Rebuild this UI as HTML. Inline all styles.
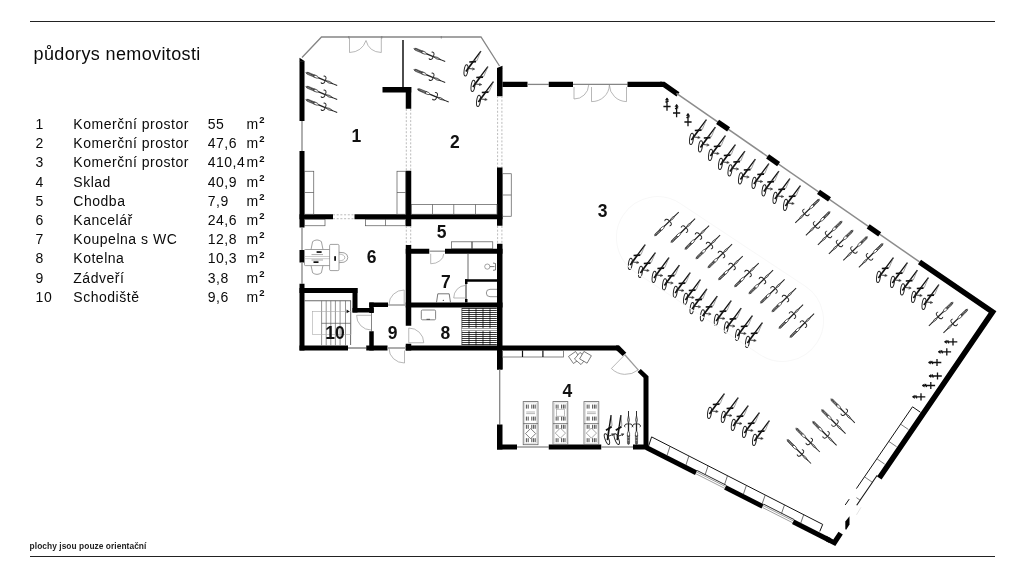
<!DOCTYPE html>
<html lang="cs"><head><meta charset="utf-8"><title>půdorys nemovitosti</title>
<style>
html,body{margin:0;padding:0;background:#fff;}
body{width:1024px;height:576px;position:relative;overflow:hidden;font-family:"Liberation Sans",sans-serif;color:#0a0a0a;}
.hl{position:absolute;left:30px;width:965px;height:1.4px;background:#222;}
h1{position:absolute;left:33.6px;top:42.9px;margin:0;font-size:18px;font-weight:400;letter-spacing:0.37px;line-height:22px;white-space:nowrap;}
.row{position:absolute;left:0;height:19px;line-height:19px;font-size:14px;letter-spacing:0.52px;white-space:nowrap;}
.row span{position:absolute;top:0;}
.row .n{left:35.6px;} .row .t{left:73.3px;} .row .v{left:207.7px;} .row .m{left:246.4px;}
.row sup{font-size:9.5px;vertical-align:baseline;position:relative;top:-5.8px;letter-spacing:0;font-weight:700;margin-left:0.6px}
.foot{position:absolute;left:29.6px;top:540px;font-size:8.4px;font-weight:700;line-height:12px;white-space:nowrap;letter-spacing:0.05px;color:#222}
svg{position:absolute;left:0;top:0;}
#wrap{position:absolute;left:0;top:0;width:1024px;height:576px;filter:grayscale(1);}
svg text{font-family:"Liberation Sans",sans-serif;font-weight:700;font-size:17.5px;fill:#111;}
</style></head><body>
<div id="wrap">
<div class="hl" style="top:20.8px"></div>
<div class="hl" style="top:555.6px"></div>
<h1>půdorys nemovitosti</h1>
<div class="row" style="top:115.00px"><span class="n">1</span><span class="t">Komerční prostor</span><span class="v">55</span><span class="m">m<sup>2</sup></span></div>
<div class="row" style="top:134.20px"><span class="n">2</span><span class="t">Komerční prostor</span><span class="v">47,6</span><span class="m">m<sup>2</sup></span></div>
<div class="row" style="top:153.40px"><span class="n">3</span><span class="t">Komerční prostor</span><span class="v">410,4</span><span class="m">m<sup>2</sup></span></div>
<div class="row" style="top:172.60px"><span class="n">4</span><span class="t">Sklad</span><span class="v">40,9</span><span class="m">m<sup>2</sup></span></div>
<div class="row" style="top:191.80px"><span class="n">5</span><span class="t">Chodba</span><span class="v">7,9</span><span class="m">m<sup>2</sup></span></div>
<div class="row" style="top:211.00px"><span class="n">6</span><span class="t">Kancelář</span><span class="v">24,6</span><span class="m">m<sup>2</sup></span></div>
<div class="row" style="top:230.20px"><span class="n">7</span><span class="t">Koupelna s WC</span><span class="v">12,8</span><span class="m">m<sup>2</sup></span></div>
<div class="row" style="top:249.40px"><span class="n">8</span><span class="t">Kotelna</span><span class="v">10,3</span><span class="m">m<sup>2</sup></span></div>
<div class="row" style="top:268.60px"><span class="n">9</span><span class="t">Zádveří</span><span class="v">3,8</span><span class="m">m<sup>2</sup></span></div>
<div class="row" style="top:287.80px"><span class="n">10</span><span class="t">Schodiště</span><span class="v">9,6</span><span class="m">m<sup>2</sup></span></div>
<div class="foot">plochy jsou pouze orientační</div>
<svg width="1024" height="576" viewBox="0 0 1024 576">
<rect x="299.50" y="61.20" width="5.00" height="59.80" fill="#000"/>
<polygon points="299.5,57.8 304.5,61 304.5,61.5 299.5,61.5" fill="#000"/>
<line x1="302.00" y1="121.00" x2="302.00" y2="151.00" stroke="#858585" stroke-width="1.3" />
<rect x="299.50" y="151.00" width="5.00" height="76.50" fill="#000"/>
<line x1="302.00" y1="227.50" x2="302.00" y2="250.00" stroke="#858585" stroke-width="1.3" />
<rect x="299.50" y="250.00" width="5.00" height="12.50" fill="#000"/>
<line x1="302.00" y1="262.50" x2="302.00" y2="283.75" stroke="#858585" stroke-width="1.3" />
<rect x="299.50" y="283.75" width="5.00" height="66.75" fill="#000"/>
<path d="M302,57.5 L321.5,37 L481,37 L499.5,66" stroke="#858585" stroke-width="1.3" fill="none" />
<line x1="403.00" y1="40.00" x2="403.00" y2="88.00" stroke="#000" stroke-width="1.4" />
<rect x="382.50" y="87.00" width="28.75" height="5.50" fill="#000"/>
<rect x="405.75" y="87.00" width="5.50" height="21.75" fill="#000"/>
<line x1="406.30" y1="109.00" x2="406.30" y2="171.00" stroke="#aaa" stroke-width="0.8" stroke-dasharray="2,1.7"/>
<line x1="410.70" y1="109.00" x2="410.70" y2="171.00" stroke="#aaa" stroke-width="0.8" stroke-dasharray="2,1.7"/>
<rect x="405.75" y="170.75" width="5.50" height="55.50" fill="#000"/>
<line x1="406.30" y1="226.00" x2="406.30" y2="245.00" stroke="#aaa" stroke-width="0.8" stroke-dasharray="2,1.7"/>
<line x1="410.70" y1="226.00" x2="410.70" y2="245.00" stroke="#aaa" stroke-width="0.8" stroke-dasharray="2,1.7"/>
<rect x="405.75" y="245.00" width="5.50" height="80.75" fill="#000"/>
<rect x="405.75" y="343.75" width="5.50" height="6.75" fill="#000"/>
<rect x="497.00" y="68.00" width="5.50" height="28.25" fill="#000"/>
<polygon points="497,68 502.5,65.8 502.5,68.2 497,68.2" fill="#000"/>
<rect x="502.50" y="81.75" width="25.00" height="5.25" fill="#000"/>
<line x1="497.60" y1="96.00" x2="497.60" y2="168.00" stroke="#aaa" stroke-width="0.8" stroke-dasharray="2,1.7"/>
<line x1="501.90" y1="96.00" x2="501.90" y2="168.00" stroke="#aaa" stroke-width="0.8" stroke-dasharray="2,1.7"/>
<rect x="497.00" y="167.50" width="5.50" height="58.25" fill="#000"/>
<line x1="497.60" y1="226.00" x2="497.60" y2="244.00" stroke="#aaa" stroke-width="0.8" stroke-dasharray="2,1.7"/>
<line x1="501.90" y1="226.00" x2="501.90" y2="244.00" stroke="#aaa" stroke-width="0.8" stroke-dasharray="2,1.7"/>
<rect x="497.00" y="243.75" width="5.50" height="125.75" fill="#000"/>
<rect x="299.50" y="214.25" width="33.50" height="5.00" fill="#000"/>
<line x1="333.00" y1="214.80" x2="354.50" y2="214.80" stroke="#aaa" stroke-width="0.8" stroke-dasharray="2,1.7"/>
<line x1="333.00" y1="218.70" x2="354.50" y2="218.70" stroke="#aaa" stroke-width="0.8" stroke-dasharray="2,1.7"/>
<rect x="354.50" y="214.25" width="148.00" height="5.00" fill="#000"/>
<rect x="405.75" y="248.75" width="23.50" height="5.00" fill="#000"/>
<rect x="445.00" y="248.75" width="57.50" height="5.00" fill="#000"/>
<line x1="468.00" y1="254.00" x2="468.00" y2="280.00" stroke="#444" stroke-width="0.8" />
<rect x="465.00" y="279.25" width="32.00" height="2.50" fill="#000"/>
<rect x="465.00" y="279.25" width="2.50" height="4.75" fill="#000"/>
<line x1="466.00" y1="284.00" x2="466.00" y2="299.50" stroke="#111" stroke-width="0.9" />
<rect x="465.00" y="299.00" width="2.50" height="3.50" fill="#000"/>
<rect x="369.25" y="302.50" width="18.75" height="4.50" fill="#000"/>
<rect x="405.75" y="302.50" width="96.75" height="5.00" fill="#000"/>
<rect x="299.50" y="288.00" width="58.00" height="5.00" fill="#000"/>
<rect x="352.50" y="288.00" width="5.00" height="24.50" fill="#000"/>
<rect x="352.50" y="308.00" width="21.25" height="4.50" fill="#000"/>
<rect x="369.25" y="302.50" width="4.50" height="10.50" fill="#000"/>
<line x1="371.50" y1="313.00" x2="371.50" y2="331.25" stroke="#666" stroke-width="0.8" />
<rect x="369.25" y="331.25" width="4.50" height="19.25" fill="#000"/>
<rect x="299.50" y="345.50" width="48.50" height="5.00" fill="#000"/>
<line x1="348.00" y1="348.00" x2="366.25" y2="348.00" stroke="#858585" stroke-width="1.5" />
<rect x="366.25" y="345.50" width="21.25" height="5.00" fill="#000"/>
<rect x="405.75" y="345.50" width="213.00" height="5.00" fill="#000"/>
<polygon points="616,345.5 619.2,345.5 626.3,352.7 622.6,355.9 616.6,350.5" fill="#000"/>
<polygon points="640.8,369 648.5,376.2 648.5,449.5 633,449.5 633,444.6 643.5,444.6 643.5,377.8 637.6,372.1" fill="#000"/>
<rect x="497.00" y="350.00" width="5.50" height="19.50" fill="#000"/>
<line x1="499.70" y1="369.50" x2="499.70" y2="424.50" stroke="#858585" stroke-width="1.3" />
<rect x="497.00" y="424.50" width="5.50" height="25.00" fill="#000"/>
<rect x="497.00" y="444.50" width="20.00" height="5.00" fill="#000"/>
<line x1="517.00" y1="447.00" x2="548.75" y2="447.00" stroke="#858585" stroke-width="1.3" />
<rect x="548.75" y="444.50" width="52.50" height="5.00" fill="#000"/>
<line x1="601.25" y1="447.00" x2="633.00" y2="447.00" stroke="#858585" stroke-width="1.3" />
<line x1="527.50" y1="84.40" x2="548.75" y2="84.40" stroke="#858585" stroke-width="1.3" />
<rect x="548.75" y="81.75" width="24.25" height="5.25" fill="#000"/>
<line x1="573.00" y1="84.40" x2="627.50" y2="84.40" stroke="#858585" stroke-width="1.3" />
<rect x="627.50" y="81.75" width="34.50" height="5.25" fill="#000"/>
<path d="M660,84.4 L663.7,84.4 L678.0,94.3" stroke="#000" stroke-width="5.2" fill="none" stroke-linejoin="miter"/>
<line x1="676.50" y1="93.26" x2="919.50" y2="261.90" stroke="#8c8c8c" stroke-width="1.5" />
<line x1="717.60" y1="121.78" x2="728.60" y2="129.42" stroke="#000" stroke-width="5.2" />
<line x1="767.60" y1="156.48" x2="778.60" y2="164.12" stroke="#000" stroke-width="5.2" />
<line x1="818.50" y1="191.81" x2="829.50" y2="199.44" stroke="#000" stroke-width="5.2" />
<line x1="868.20" y1="226.30" x2="879.70" y2="234.28" stroke="#000" stroke-width="5.2" />
<path d="M919.5,261.9 L992.6,311.9 L879.3,478.0" stroke="#000" stroke-width="5.5" fill="none" stroke-linejoin="miter" stroke-miterlimit="10"/>
<polygon points="845.3,521.5 849.5,516.3 849.5,524.5 846.2,529.8 845.3,529.2" fill="#000"/>
<line x1="646.30" y1="447.49" x2="696.10" y2="472.69" stroke="#000" stroke-width="4.9" />
<line x1="725.20" y1="487.41" x2="762.60" y2="506.34" stroke="#000" stroke-width="4.9" />
<line x1="793.10" y1="521.77" x2="830.00" y2="540.44" stroke="#000" stroke-width="4.9" />
<polygon points="826,535.7 833.3,539.4 838.5,531.7 842.8,534.6 835.3,546 826,541.2" fill="#000"/>
<line x1="697.10" y1="470.50" x2="726.20" y2="485.22" stroke="#111" stroke-width="0.9" />
<line x1="696.10" y1="471.69" x2="725.20" y2="486.41" stroke="#777" stroke-width="0.7" />
<line x1="696.10" y1="473.89" x2="725.20" y2="488.61" stroke="#777" stroke-width="0.7" />
<line x1="763.60" y1="504.14" x2="794.10" y2="519.58" stroke="#111" stroke-width="0.9" />
<line x1="762.60" y1="505.34" x2="793.10" y2="520.77" stroke="#777" stroke-width="0.7" />
<line x1="762.60" y1="507.54" x2="793.10" y2="522.97" stroke="#777" stroke-width="0.7" />
<rect x="304.50" y="171.25" width="9.25" height="43.00" fill="none" stroke="#555" stroke-width="0.7"/>
<line x1="304.50" y1="192.50" x2="313.75" y2="192.50" stroke="#555" stroke-width="0.7" />
<rect x="397.00" y="171.25" width="8.75" height="43.00" fill="none" stroke="#555" stroke-width="0.7"/>
<line x1="397.00" y1="192.50" x2="405.75" y2="192.50" stroke="#555" stroke-width="0.7" />
<rect x="411.25" y="204.50" width="85.75" height="9.75" fill="none" stroke="#555" stroke-width="0.7"/>
<line x1="432.50" y1="204.50" x2="432.50" y2="214.25" stroke="#555" stroke-width="0.7" />
<line x1="453.75" y1="204.50" x2="453.75" y2="214.25" stroke="#555" stroke-width="0.7" />
<line x1="475.50" y1="204.50" x2="475.50" y2="214.25" stroke="#555" stroke-width="0.7" />
<rect x="502.50" y="173.75" width="8.75" height="42.50" fill="none" stroke="#555" stroke-width="0.7"/>
<line x1="502.50" y1="195.00" x2="511.25" y2="195.00" stroke="#555" stroke-width="0.7" />
<rect x="304.50" y="219.25" width="20.50" height="6.50" fill="none" stroke="#555" stroke-width="0.7"/>
<rect x="365.50" y="219.25" width="40.00" height="6.50" fill="none" stroke="#555" stroke-width="0.7"/>
<line x1="385.50" y1="219.25" x2="385.50" y2="225.75" stroke="#555" stroke-width="0.7" />
<rect x="451.50" y="241.80" width="41.25" height="6.95" fill="none" stroke="#555" stroke-width="0.7"/>
<line x1="472.00" y1="241.80" x2="472.00" y2="248.75" stroke="#222" stroke-width="1" />
<rect x="502.50" y="350.50" width="61.00" height="6.50" fill="none" stroke="#666" stroke-width="0.8"/>
<line x1="522.50" y1="350.50" x2="522.50" y2="357.00" stroke="#111" stroke-width="1.2" />
<line x1="542.90" y1="350.50" x2="542.90" y2="357.00" stroke="#111" stroke-width="1.2" />
<path d="M349.5,37 L349.5,52.5 Q362,52 366,40.5" stroke="#9a9a9a" stroke-width="0.7" fill="none" />
<path d="M381.3,37 L381.3,52.5 Q369,52 366,40.5" stroke="#9a9a9a" stroke-width="0.7" fill="none" />
<line x1="348.80" y1="36.00" x2="348.80" y2="38.50" stroke="#777" stroke-width="0.8" />
<line x1="381.80" y1="36.00" x2="381.80" y2="38.50" stroke="#777" stroke-width="0.8" />
<line x1="441.30" y1="36.00" x2="441.30" y2="38.50" stroke="#777" stroke-width="0.8" />
<path d="M574,87 L574,99 A14.5,14.5 0 0 0 588.7,85" stroke="#9a9a9a" stroke-width="0.7" fill="none" />
<path d="M591.5,87 L591.5,101.6 A17.5,17 0 0 0 609.4,85" stroke="#9a9a9a" stroke-width="0.7" fill="none" />
<path d="M626.5,87 L626.5,101.6 A17.5,17 0 0 1 609.4,85" stroke="#9a9a9a" stroke-width="0.7" fill="none" />
<line x1="429.25" y1="251.20" x2="445.00" y2="251.20" stroke="#999" stroke-width="1.4" />
<path d="M430.7,253.75 L430.7,263.75 A13,10 0 0 0 443.7,253.9" stroke="#9a9a9a" stroke-width="0.7" fill="none" />
<path d="M465.6,285.4 A12,12.6 0 0 0 453.7,298 L465.6,298" stroke="#9a9a9a" stroke-width="0.7" fill="none" />
<line x1="388.00" y1="305.00" x2="405.75" y2="305.00" stroke="#999" stroke-width="1.4" />
<path d="M404.2,304.5 L404.2,290 A15,14.5 0 0 0 389,304.5" stroke="#9a9a9a" stroke-width="0.7" fill="none" />
<path d="M371,315.3 L356.6,315.3 A14.5,14.5 0 0 0 371,330" stroke="#9a9a9a" stroke-width="0.7" fill="none" />
<path d="M408.75,328 L408.75,342.75 L423.75,342.75 A15,14.75 0 0 0 408.75,328" stroke="#9a9a9a" stroke-width="0.7" fill="none" />
<line x1="387.50" y1="348.00" x2="405.75" y2="348.00" stroke="#999" stroke-width="1.6" />
<path d="M404.5,350.5 L404.5,363 A15.5,14.5 0 0 1 389,348.5" stroke="#9a9a9a" stroke-width="0.7" fill="none" />
<path d="M624.8,354.8 L611.4,368.5 A20,20 0 0 0 638.2,369.9" stroke="#9a9a9a" stroke-width="0.7" fill="none" />
<line x1="624.80" y1="354.80" x2="638.40" y2="370.10" stroke="#999" stroke-width="1.3" />
<circle cx="487.3" cy="266.6" r="2.6" fill="none" stroke="#666" stroke-width="0.6"/>
<path d="M489.9,266.6 L494.5,266.6 M493,263 L495.5,263.5 L495.5,270 L493,270.3" stroke="#444" stroke-width="0.7" fill="none" />
<path d="M497,289.3 L490,289.3 Q486.3,289.3 486.3,293 Q486.3,296.7 490,296.7 L497,296.7" stroke="#666" stroke-width="0.7" fill="none" />
<path d="M436.5,302.5 L437.8,293.8 L449.2,293.8 L450.5,302.5" stroke="#555" stroke-width="0.8" fill="none" />
<circle cx="443.3" cy="300.3" r="0.6" fill="#222"/>
<rect x="421.3" y="310" width="14.3" height="9.8" rx="1.2" fill="none" stroke="#666" stroke-width="0.8"/>
<line x1="426.50" y1="319.30" x2="430.00" y2="319.30" stroke="#333" stroke-width="0.8" />
<line x1="461.80" y1="308.50" x2="496.80" y2="308.50" stroke="#3a3a3a" stroke-width="1.0" />
<line x1="461.80" y1="310.50" x2="496.80" y2="310.50" stroke="#3a3a3a" stroke-width="1.0" />
<line x1="461.80" y1="312.50" x2="496.80" y2="312.50" stroke="#3a3a3a" stroke-width="1.0" />
<line x1="461.80" y1="314.50" x2="496.80" y2="314.50" stroke="#3a3a3a" stroke-width="1.0" />
<line x1="461.80" y1="316.50" x2="496.80" y2="316.50" stroke="#3a3a3a" stroke-width="1.0" />
<line x1="461.80" y1="318.50" x2="496.80" y2="318.50" stroke="#3a3a3a" stroke-width="1.0" />
<line x1="461.80" y1="320.50" x2="496.80" y2="320.50" stroke="#3a3a3a" stroke-width="1.0" />
<line x1="461.80" y1="322.50" x2="496.80" y2="322.50" stroke="#3a3a3a" stroke-width="1.0" />
<line x1="461.80" y1="324.50" x2="496.80" y2="324.50" stroke="#3a3a3a" stroke-width="1.0" />
<line x1="461.80" y1="326.50" x2="496.80" y2="326.50" stroke="#3a3a3a" stroke-width="1.0" />
<line x1="461.80" y1="328.50" x2="496.80" y2="328.50" stroke="#3a3a3a" stroke-width="1.0" />
<line x1="461.80" y1="330.50" x2="496.80" y2="330.50" stroke="#3a3a3a" stroke-width="1.0" />
<line x1="461.80" y1="332.50" x2="496.80" y2="332.50" stroke="#3a3a3a" stroke-width="1.0" />
<line x1="461.80" y1="334.50" x2="496.80" y2="334.50" stroke="#3a3a3a" stroke-width="1.0" />
<line x1="461.80" y1="336.50" x2="496.80" y2="336.50" stroke="#3a3a3a" stroke-width="1.0" />
<line x1="461.80" y1="338.50" x2="496.80" y2="338.50" stroke="#3a3a3a" stroke-width="1.0" />
<line x1="461.80" y1="340.50" x2="496.80" y2="340.50" stroke="#3a3a3a" stroke-width="1.0" />
<line x1="461.80" y1="342.50" x2="496.80" y2="342.50" stroke="#3a3a3a" stroke-width="1.0" />
<line x1="461.80" y1="344.50" x2="496.80" y2="344.50" stroke="#3a3a3a" stroke-width="1.0" />
<line x1="469.00" y1="308.20" x2="469.00" y2="345.30" stroke="#000" stroke-width="1.2" stroke-opacity="0.6"/>
<line x1="476.00" y1="308.20" x2="476.00" y2="345.30" stroke="#000" stroke-width="1.2" stroke-opacity="0.6"/>
<line x1="483.00" y1="308.20" x2="483.00" y2="345.30" stroke="#000" stroke-width="1.2" stroke-opacity="0.6"/>
<line x1="490.00" y1="308.20" x2="490.00" y2="345.30" stroke="#000" stroke-width="1.2" stroke-opacity="0.6"/>
<line x1="461.90" y1="308.20" x2="461.90" y2="345.30" stroke="#333" stroke-width="0.7" />
<line x1="461.80" y1="329.50" x2="496.80" y2="329.50" stroke="#fff" stroke-width="2.0" />
<line x1="304.50" y1="300.75" x2="351.00" y2="300.75" stroke="#444" stroke-width="0.8" />
<line x1="350.60" y1="300.75" x2="350.60" y2="345.00" stroke="#444" stroke-width="0.8" />
<line x1="321.60" y1="300.75" x2="321.60" y2="345.50" stroke="#666" stroke-width="0.7" />
<line x1="326.20" y1="300.75" x2="326.20" y2="345.50" stroke="#666" stroke-width="0.7" />
<line x1="330.80" y1="300.75" x2="330.80" y2="345.50" stroke="#666" stroke-width="0.7" />
<line x1="335.40" y1="300.75" x2="335.40" y2="345.50" stroke="#666" stroke-width="0.7" />
<line x1="340.10" y1="300.75" x2="340.10" y2="345.50" stroke="#666" stroke-width="0.7" />
<line x1="345.50" y1="300.75" x2="345.50" y2="345.50" stroke="#666" stroke-width="0.7" />
<line x1="321.60" y1="323.30" x2="351.00" y2="323.30" stroke="#555" stroke-width="0.7" />
<rect x="312.30" y="311.40" width="38.70" height="23.10" fill="none" stroke="#aaa" stroke-width="0.6"/>
<polygon points="346.6,309.6 349.6,311.4 346.6,313.2" fill="#111"/>
<path d="M311,249.6 L312.6,241.6 Q317,238.3 321.4,241.6 L323,249.6" stroke="#777" stroke-width="0.7" fill="none" />
<path d="M311,265.4 L312.6,272.8 Q317,276 321.4,272.8 L323,265.4" stroke="#777" stroke-width="0.7" fill="none" />
<path d="M339,252.3 L344,252.8 Q347.8,254 347.8,257.5 Q347.8,261 344,262.2 L339,262.7" stroke="#777" stroke-width="0.7" fill="none" />
<path d="M339,254 Q344.8,254.5 344.8,257.5 Q344.8,260.5 339,261" stroke="#777" stroke-width="0.5" fill="none" />
<rect x="304.50" y="249.50" width="26.00" height="16.10" rx="0.8" fill="#fff" stroke="#777" stroke-width="0.7"/>
<line x1="304.50" y1="256.50" x2="330.00" y2="256.50" stroke="#999" stroke-width="0.5" />
<line x1="304.50" y1="258.70" x2="330.00" y2="258.70" stroke="#999" stroke-width="0.5" />
<rect x="329.60" y="244.40" width="9.40" height="26.20" rx="1.2" fill="#fff" stroke="#777" stroke-width="0.7"/>
<rect x="316.60" y="251.20" width="5.00" height="1.70" fill="#111"/>
<rect x="313.50" y="261.30" width="5.00" height="1.70" fill="#111"/>
<rect x="334.20" y="256.20" width="1.80" height="4.60" fill="#111"/>
<line x1="311.50" y1="254.60" x2="323.00" y2="254.60" stroke="#555" stroke-width="0.5" />
<line x1="311.50" y1="260.00" x2="323.00" y2="260.00" stroke="#555" stroke-width="0.5" />
<rect x="570.2" y="353.2" width="8.6" height="8.6" fill="#fff" stroke="#555" stroke-width="0.7" transform="rotate(-35 574.5 357.5)"/>
<rect x="576.2" y="354.2" width="8.6" height="8.6" fill="#fff" stroke="#555" stroke-width="0.7" transform="rotate(40 580.5 358.5)"/>
<rect x="581.2" y="353.0" width="8.6" height="8.6" fill="#fff" stroke="#555" stroke-width="0.7" transform="rotate(30 585.5 357.3)"/>
<rect x="523.20" y="401.60" width="14.80" height="43.10" fill="none" stroke="#666" stroke-width="0.8"/>
<rect x="524.50" y="402.90" width="12.20" height="40.50" fill="none" stroke="#c4c4c4" stroke-width="0.5"/>
<line x1="523.20" y1="423.60" x2="538.00" y2="423.60" stroke="#666" stroke-width="0.8" />
<line x1="526.40" y1="404.60" x2="526.40" y2="408.60" stroke="#222" stroke-width="0.8" />
<line x1="528.20" y1="404.60" x2="528.20" y2="408.60" stroke="#222" stroke-width="0.8" />
<line x1="531.80" y1="404.60" x2="531.80" y2="408.60" stroke="#222" stroke-width="0.8" />
<line x1="533.60" y1="404.60" x2="533.60" y2="408.60" stroke="#222" stroke-width="0.8" />
<line x1="535.20" y1="404.60" x2="535.20" y2="408.60" stroke="#222" stroke-width="0.8" />
<line x1="526.40" y1="416.60" x2="526.40" y2="420.60" stroke="#222" stroke-width="0.8" />
<line x1="528.20" y1="416.60" x2="528.20" y2="420.60" stroke="#222" stroke-width="0.8" />
<line x1="531.80" y1="416.60" x2="531.80" y2="420.60" stroke="#222" stroke-width="0.8" />
<line x1="533.60" y1="416.60" x2="533.60" y2="420.60" stroke="#222" stroke-width="0.8" />
<line x1="535.20" y1="416.60" x2="535.20" y2="420.60" stroke="#222" stroke-width="0.8" />
<line x1="526.40" y1="424.80" x2="526.40" y2="428.80" stroke="#222" stroke-width="0.8" />
<line x1="528.20" y1="424.80" x2="528.20" y2="428.80" stroke="#222" stroke-width="0.8" />
<line x1="531.80" y1="424.80" x2="531.80" y2="428.80" stroke="#222" stroke-width="0.8" />
<line x1="533.60" y1="424.80" x2="533.60" y2="428.80" stroke="#222" stroke-width="0.8" />
<line x1="535.20" y1="424.80" x2="535.20" y2="428.80" stroke="#222" stroke-width="0.8" />
<line x1="526.40" y1="438.20" x2="526.40" y2="442.20" stroke="#222" stroke-width="0.8" />
<line x1="528.20" y1="438.20" x2="528.20" y2="442.20" stroke="#222" stroke-width="0.8" />
<line x1="531.80" y1="438.20" x2="531.80" y2="442.20" stroke="#222" stroke-width="0.8" />
<line x1="533.60" y1="438.20" x2="533.60" y2="442.20" stroke="#222" stroke-width="0.8" />
<line x1="535.20" y1="438.20" x2="535.20" y2="442.20" stroke="#222" stroke-width="0.8" />
<line x1="526.20" y1="412.00" x2="535.00" y2="412.00" stroke="#888" stroke-width="0.6" />
<line x1="526.20" y1="413.60" x2="535.00" y2="413.60" stroke="#888" stroke-width="0.6" />
<rect x="553.00" y="401.60" width="14.80" height="43.10" fill="none" stroke="#666" stroke-width="0.8"/>
<rect x="554.30" y="402.90" width="12.20" height="40.50" fill="none" stroke="#c4c4c4" stroke-width="0.5"/>
<line x1="553.00" y1="423.60" x2="567.80" y2="423.60" stroke="#666" stroke-width="0.8" />
<line x1="556.20" y1="404.60" x2="556.20" y2="408.60" stroke="#222" stroke-width="0.8" />
<line x1="558.00" y1="404.60" x2="558.00" y2="408.60" stroke="#222" stroke-width="0.8" />
<line x1="561.60" y1="404.60" x2="561.60" y2="408.60" stroke="#222" stroke-width="0.8" />
<line x1="563.40" y1="404.60" x2="563.40" y2="408.60" stroke="#222" stroke-width="0.8" />
<line x1="565.00" y1="404.60" x2="565.00" y2="408.60" stroke="#222" stroke-width="0.8" />
<line x1="556.20" y1="416.60" x2="556.20" y2="420.60" stroke="#222" stroke-width="0.8" />
<line x1="558.00" y1="416.60" x2="558.00" y2="420.60" stroke="#222" stroke-width="0.8" />
<line x1="561.60" y1="416.60" x2="561.60" y2="420.60" stroke="#222" stroke-width="0.8" />
<line x1="563.40" y1="416.60" x2="563.40" y2="420.60" stroke="#222" stroke-width="0.8" />
<line x1="565.00" y1="416.60" x2="565.00" y2="420.60" stroke="#222" stroke-width="0.8" />
<line x1="556.20" y1="424.80" x2="556.20" y2="428.80" stroke="#222" stroke-width="0.8" />
<line x1="558.00" y1="424.80" x2="558.00" y2="428.80" stroke="#222" stroke-width="0.8" />
<line x1="561.60" y1="424.80" x2="561.60" y2="428.80" stroke="#222" stroke-width="0.8" />
<line x1="563.40" y1="424.80" x2="563.40" y2="428.80" stroke="#222" stroke-width="0.8" />
<line x1="565.00" y1="424.80" x2="565.00" y2="428.80" stroke="#222" stroke-width="0.8" />
<line x1="556.20" y1="438.20" x2="556.20" y2="442.20" stroke="#222" stroke-width="0.8" />
<line x1="558.00" y1="438.20" x2="558.00" y2="442.20" stroke="#222" stroke-width="0.8" />
<line x1="561.60" y1="438.20" x2="561.60" y2="442.20" stroke="#222" stroke-width="0.8" />
<line x1="563.40" y1="438.20" x2="563.40" y2="442.20" stroke="#222" stroke-width="0.8" />
<line x1="565.00" y1="438.20" x2="565.00" y2="442.20" stroke="#222" stroke-width="0.8" />
<line x1="556.00" y1="412.00" x2="564.80" y2="412.00" stroke="#888" stroke-width="0.6" />
<line x1="556.00" y1="413.60" x2="564.80" y2="413.60" stroke="#888" stroke-width="0.6" />
<rect x="584.00" y="401.60" width="14.80" height="43.10" fill="none" stroke="#666" stroke-width="0.8"/>
<rect x="585.30" y="402.90" width="12.20" height="40.50" fill="none" stroke="#c4c4c4" stroke-width="0.5"/>
<line x1="584.00" y1="423.60" x2="598.80" y2="423.60" stroke="#666" stroke-width="0.8" />
<line x1="587.20" y1="404.60" x2="587.20" y2="408.60" stroke="#222" stroke-width="0.8" />
<line x1="589.00" y1="404.60" x2="589.00" y2="408.60" stroke="#222" stroke-width="0.8" />
<line x1="592.60" y1="404.60" x2="592.60" y2="408.60" stroke="#222" stroke-width="0.8" />
<line x1="594.40" y1="404.60" x2="594.40" y2="408.60" stroke="#222" stroke-width="0.8" />
<line x1="596.00" y1="404.60" x2="596.00" y2="408.60" stroke="#222" stroke-width="0.8" />
<line x1="587.20" y1="416.60" x2="587.20" y2="420.60" stroke="#222" stroke-width="0.8" />
<line x1="589.00" y1="416.60" x2="589.00" y2="420.60" stroke="#222" stroke-width="0.8" />
<line x1="592.60" y1="416.60" x2="592.60" y2="420.60" stroke="#222" stroke-width="0.8" />
<line x1="594.40" y1="416.60" x2="594.40" y2="420.60" stroke="#222" stroke-width="0.8" />
<line x1="596.00" y1="416.60" x2="596.00" y2="420.60" stroke="#222" stroke-width="0.8" />
<line x1="587.20" y1="424.80" x2="587.20" y2="428.80" stroke="#222" stroke-width="0.8" />
<line x1="589.00" y1="424.80" x2="589.00" y2="428.80" stroke="#222" stroke-width="0.8" />
<line x1="592.60" y1="424.80" x2="592.60" y2="428.80" stroke="#222" stroke-width="0.8" />
<line x1="594.40" y1="424.80" x2="594.40" y2="428.80" stroke="#222" stroke-width="0.8" />
<line x1="596.00" y1="424.80" x2="596.00" y2="428.80" stroke="#222" stroke-width="0.8" />
<line x1="587.20" y1="438.20" x2="587.20" y2="442.20" stroke="#222" stroke-width="0.8" />
<line x1="589.00" y1="438.20" x2="589.00" y2="442.20" stroke="#222" stroke-width="0.8" />
<line x1="592.60" y1="438.20" x2="592.60" y2="442.20" stroke="#222" stroke-width="0.8" />
<line x1="594.40" y1="438.20" x2="594.40" y2="442.20" stroke="#222" stroke-width="0.8" />
<line x1="596.00" y1="438.20" x2="596.00" y2="442.20" stroke="#222" stroke-width="0.8" />
<line x1="587.00" y1="412.00" x2="595.80" y2="412.00" stroke="#888" stroke-width="0.6" />
<line x1="587.00" y1="413.60" x2="595.80" y2="413.60" stroke="#888" stroke-width="0.6" />
<rect x="527" y="430" width="7.2" height="7.2" fill="#fff" stroke="#555" stroke-width="0.7" transform="rotate(45 530.6 433.6)"/>
<rect x="556.8" y="429.5" width="7.2" height="7.2" fill="#fff" stroke="#888" stroke-width="0.7" transform="rotate(45 560.4 433.1)"/>
<rect x="587.8" y="429.5" width="7.2" height="7.2" fill="#fff" stroke="#888" stroke-width="0.7" transform="rotate(45 591.4 433.1)"/>
<rect x="556.3" y="409.2" width="8" height="7" fill="#fff" stroke="#999" stroke-width="0.6"/>
<path d="M648.6,446.0 L651.6,436.9 L822.7,524.4 L819.8,531.4" stroke="#111" stroke-width="1.0" fill="none" />
<line x1="670.00" y1="446.31" x2="667.00" y2="455.56" stroke="#333" stroke-width="0.7" />
<line x1="688.90" y1="455.98" x2="685.90" y2="465.13" stroke="#333" stroke-width="0.7" />
<line x1="708.10" y1="465.81" x2="705.10" y2="474.84" stroke="#333" stroke-width="0.7" />
<line x1="727.50" y1="475.73" x2="724.50" y2="484.66" stroke="#333" stroke-width="0.7" />
<line x1="746.40" y1="485.40" x2="743.40" y2="494.22" stroke="#333" stroke-width="0.7" />
<line x1="765.20" y1="495.02" x2="762.20" y2="503.74" stroke="#333" stroke-width="0.7" />
<line x1="784.50" y1="504.89" x2="781.50" y2="513.50" stroke="#333" stroke-width="0.7" />
<line x1="803.70" y1="514.71" x2="800.70" y2="523.22" stroke="#333" stroke-width="0.7" />
<path d="M920.5,412.3 L912.5,406.8 L856.4,488.6" stroke="#111" stroke-width="1.0" fill="none" />
<line x1="877.21" y1="475.26" x2="856.70" y2="505.21" stroke="#111" stroke-width="1.1" />
<line x1="849.23" y1="499.12" x2="845.22" y2="504.98" stroke="#111" stroke-width="1.0" />
<line x1="900.59" y1="424.13" x2="908.43" y2="429.50" stroke="#444" stroke-width="0.7" />
<line x1="888.78" y1="441.38" x2="896.62" y2="446.74" stroke="#444" stroke-width="0.7" />
<line x1="876.86" y1="458.78" x2="884.70" y2="464.15" stroke="#444" stroke-width="0.7" />
<line x1="864.49" y1="476.85" x2="872.32" y2="482.22" stroke="#444" stroke-width="0.7" />
<line x1="856.43" y1="497.63" x2="860.06" y2="500.12" stroke="#444" stroke-width="0.7" />
<line x1="856.50" y1="514.80" x2="861.00" y2="507.30" stroke="#ddd" stroke-width="0.8" />
<g transform="translate(321.5 79.0) rotate(22.5)"><line x1="-16" y1="0" x2="-7" y2="0" stroke="#222" stroke-width="2.1" stroke-dasharray="0.8,0.35"/>
<path d="M-17,0 L-15,-1.05 L-7,-1.1 M-17,0 L-15,1.05 L-7,1.1" stroke="#222" stroke-width="0.5" fill="none"/>
<path d="M-8,-1.1 Q-5,-1.6 -2.5,0 Q-5,1.6 -8,1.1 Z" stroke="#222" stroke-width="0.7" fill="#fff"/>
<line x1="-3" y1="0" x2="4" y2="0" stroke="#222" stroke-width="1.3"/>
<path d="M0.8,-3.3 Q1.3,-4.3 3,-3.7 Q4.2,-2.9 4.1,-1 L4.1,1 Q4.2,2.9 3,3.7 Q1.3,4.3 0.8,3.3" stroke="#222" stroke-width="0.95" fill="none"/>
<path d="M4.1,0 Q8,-1.7 12.5,0 Q8,1.7 4.1,0 Z" stroke="#222" stroke-width="0.75" fill="#ddd"/>
<line x1="12" y1="0" x2="17" y2="0" stroke="#222" stroke-width="0.95"/></g>
<g transform="translate(321.5 93.0) rotate(22.5)"><line x1="-16" y1="0" x2="-7" y2="0" stroke="#222" stroke-width="2.1" stroke-dasharray="0.8,0.35"/>
<path d="M-17,0 L-15,-1.05 L-7,-1.1 M-17,0 L-15,1.05 L-7,1.1" stroke="#222" stroke-width="0.5" fill="none"/>
<path d="M-8,-1.1 Q-5,-1.6 -2.5,0 Q-5,1.6 -8,1.1 Z" stroke="#222" stroke-width="0.7" fill="#fff"/>
<line x1="-3" y1="0" x2="4" y2="0" stroke="#222" stroke-width="1.3"/>
<path d="M0.8,-3.3 Q1.3,-4.3 3,-3.7 Q4.2,-2.9 4.1,-1 L4.1,1 Q4.2,2.9 3,3.7 Q1.3,4.3 0.8,3.3" stroke="#222" stroke-width="0.95" fill="none"/>
<path d="M4.1,0 Q8,-1.7 12.5,0 Q8,1.7 4.1,0 Z" stroke="#222" stroke-width="0.75" fill="#ddd"/>
<line x1="12" y1="0" x2="17" y2="0" stroke="#222" stroke-width="0.95"/></g>
<g transform="translate(321.5 106.0) rotate(22.5)"><line x1="-16" y1="0" x2="-7" y2="0" stroke="#222" stroke-width="2.1" stroke-dasharray="0.8,0.35"/>
<path d="M-17,0 L-15,-1.05 L-7,-1.1 M-17,0 L-15,1.05 L-7,1.1" stroke="#222" stroke-width="0.5" fill="none"/>
<path d="M-8,-1.1 Q-5,-1.6 -2.5,0 Q-5,1.6 -8,1.1 Z" stroke="#222" stroke-width="0.7" fill="#fff"/>
<line x1="-3" y1="0" x2="4" y2="0" stroke="#222" stroke-width="1.3"/>
<path d="M0.8,-3.3 Q1.3,-4.3 3,-3.7 Q4.2,-2.9 4.1,-1 L4.1,1 Q4.2,2.9 3,3.7 Q1.3,4.3 0.8,3.3" stroke="#222" stroke-width="0.95" fill="none"/>
<path d="M4.1,0 Q8,-1.7 12.5,0 Q8,1.7 4.1,0 Z" stroke="#222" stroke-width="0.75" fill="#ddd"/>
<line x1="12" y1="0" x2="17" y2="0" stroke="#222" stroke-width="0.95"/></g>
<g transform="translate(429.5 55.0) rotate(22.5)"><line x1="-16" y1="0" x2="-7" y2="0" stroke="#222" stroke-width="2.1" stroke-dasharray="0.8,0.35"/>
<path d="M-17,0 L-15,-1.05 L-7,-1.1 M-17,0 L-15,1.05 L-7,1.1" stroke="#222" stroke-width="0.5" fill="none"/>
<path d="M-8,-1.1 Q-5,-1.6 -2.5,0 Q-5,1.6 -8,1.1 Z" stroke="#222" stroke-width="0.7" fill="#fff"/>
<line x1="-3" y1="0" x2="4" y2="0" stroke="#222" stroke-width="1.3"/>
<path d="M0.8,-3.3 Q1.3,-4.3 3,-3.7 Q4.2,-2.9 4.1,-1 L4.1,1 Q4.2,2.9 3,3.7 Q1.3,4.3 0.8,3.3" stroke="#222" stroke-width="0.95" fill="none"/>
<path d="M4.1,0 Q8,-1.7 12.5,0 Q8,1.7 4.1,0 Z" stroke="#222" stroke-width="0.75" fill="#ddd"/>
<line x1="12" y1="0" x2="17" y2="0" stroke="#222" stroke-width="0.95"/></g>
<g transform="translate(429.5 76.0) rotate(22.5)"><line x1="-16" y1="0" x2="-7" y2="0" stroke="#222" stroke-width="2.1" stroke-dasharray="0.8,0.35"/>
<path d="M-17,0 L-15,-1.05 L-7,-1.1 M-17,0 L-15,1.05 L-7,1.1" stroke="#222" stroke-width="0.5" fill="none"/>
<path d="M-8,-1.1 Q-5,-1.6 -2.5,0 Q-5,1.6 -8,1.1 Z" stroke="#222" stroke-width="0.7" fill="#fff"/>
<line x1="-3" y1="0" x2="4" y2="0" stroke="#222" stroke-width="1.3"/>
<path d="M0.8,-3.3 Q1.3,-4.3 3,-3.7 Q4.2,-2.9 4.1,-1 L4.1,1 Q4.2,2.9 3,3.7 Q1.3,4.3 0.8,3.3" stroke="#222" stroke-width="0.95" fill="none"/>
<path d="M4.1,0 Q8,-1.7 12.5,0 Q8,1.7 4.1,0 Z" stroke="#222" stroke-width="0.75" fill="#ddd"/>
<line x1="12" y1="0" x2="17" y2="0" stroke="#222" stroke-width="0.95"/></g>
<g transform="translate(433.0 95.5) rotate(22.5)"><line x1="-16" y1="0" x2="-7" y2="0" stroke="#222" stroke-width="2.1" stroke-dasharray="0.8,0.35"/>
<path d="M-17,0 L-15,-1.05 L-7,-1.1 M-17,0 L-15,1.05 L-7,1.1" stroke="#222" stroke-width="0.5" fill="none"/>
<path d="M-8,-1.1 Q-5,-1.6 -2.5,0 Q-5,1.6 -8,1.1 Z" stroke="#222" stroke-width="0.7" fill="#fff"/>
<line x1="-3" y1="0" x2="4" y2="0" stroke="#222" stroke-width="1.3"/>
<path d="M0.8,-3.3 Q1.3,-4.3 3,-3.7 Q4.2,-2.9 4.1,-1 L4.1,1 Q4.2,2.9 3,3.7 Q1.3,4.3 0.8,3.3" stroke="#222" stroke-width="0.95" fill="none"/>
<path d="M4.1,0 Q8,-1.7 12.5,0 Q8,1.7 4.1,0 Z" stroke="#222" stroke-width="0.75" fill="#ddd"/>
<line x1="12" y1="0" x2="17" y2="0" stroke="#222" stroke-width="0.95"/></g>
<g transform="translate(472.5 63.5) rotate(0)"><ellipse cx="-6.5" cy="6.8" rx="1.85" ry="5.7" transform="rotate(8 -6.5 6.8)" stroke="#222" stroke-width="1" fill="none"/>
<path d="M-6.6,8 L1.3,-2.8" stroke="#111" stroke-width="1.7" fill="none"/>
<path d="M1.3,-2.8 L8.4,-12.4" stroke="#111" stroke-width="1.35" fill="none"/>
<path d="M8.4,-12.4 L4.3,-2.6 L1.5,-2.6" stroke="#666" stroke-width="0.6" fill="none"/>
<path d="M-3.2,-1.5 L3.5,-1.9" stroke="#111" stroke-width="1.7" fill="none"/>
<path d="M-5.6,4.9 L1.2,5.5" stroke="#222" stroke-width="0.9" fill="none"/>
<path d="M-0.2,4.3 L2.2,5.6 L-0.4,6.6" stroke="#222" stroke-width="0.7" fill="none"/></g>
<g transform="translate(479.5 79.0) rotate(0)"><ellipse cx="-6.5" cy="6.8" rx="1.85" ry="5.7" transform="rotate(8 -6.5 6.8)" stroke="#222" stroke-width="1" fill="none"/>
<path d="M-6.6,8 L1.3,-2.8" stroke="#111" stroke-width="1.7" fill="none"/>
<path d="M1.3,-2.8 L8.4,-12.4" stroke="#111" stroke-width="1.35" fill="none"/>
<path d="M8.4,-12.4 L4.3,-2.6 L1.5,-2.6" stroke="#666" stroke-width="0.6" fill="none"/>
<path d="M-3.2,-1.5 L3.5,-1.9" stroke="#111" stroke-width="1.7" fill="none"/>
<path d="M-5.6,4.9 L1.2,5.5" stroke="#222" stroke-width="0.9" fill="none"/>
<path d="M-0.2,4.3 L2.2,5.6 L-0.4,6.6" stroke="#222" stroke-width="0.7" fill="none"/></g>
<g transform="translate(485.0 94.0) rotate(0)"><ellipse cx="-6.5" cy="6.8" rx="1.85" ry="5.7" transform="rotate(8 -6.5 6.8)" stroke="#222" stroke-width="1" fill="none"/>
<path d="M-6.6,8 L1.3,-2.8" stroke="#111" stroke-width="1.7" fill="none"/>
<path d="M1.3,-2.8 L8.4,-12.4" stroke="#111" stroke-width="1.35" fill="none"/>
<path d="M8.4,-12.4 L4.3,-2.6 L1.5,-2.6" stroke="#666" stroke-width="0.6" fill="none"/>
<path d="M-3.2,-1.5 L3.5,-1.9" stroke="#111" stroke-width="1.7" fill="none"/>
<path d="M-5.6,4.9 L1.2,5.5" stroke="#222" stroke-width="0.9" fill="none"/>
<path d="M-0.2,4.3 L2.2,5.6 L-0.4,6.6" stroke="#222" stroke-width="0.7" fill="none"/></g>
<g transform="translate(667.0 104.5) rotate(0)"><path d="M0,-6.3 L0,6.3 M-3.6,2 L3.6,2 M-1.6,-2.3 L1.6,-3.3" stroke="#111" stroke-width="1.3" fill="none"/>
<path d="M-2.1,-4.3 L2.1,-4.3 L0,-6.9 Z" fill="#111"/></g>
<g transform="translate(676.6 111.0) rotate(0)"><path d="M0,-6.3 L0,6.3 M-3.6,2 L3.6,2 M-1.6,-2.3 L1.6,-3.3" stroke="#111" stroke-width="1.3" fill="none"/>
<path d="M-2.1,-4.3 L2.1,-4.3 L0,-6.9 Z" fill="#111"/></g>
<g transform="translate(688.0 120.0) rotate(0)"><path d="M0,-6.3 L0,6.3 M-3.6,2 L3.6,2 M-1.6,-2.3 L1.6,-3.3" stroke="#111" stroke-width="1.3" fill="none"/>
<path d="M-2.1,-4.3 L2.1,-4.3 L0,-6.9 Z" fill="#111"/></g>
<g transform="translate(698.0 132.0) rotate(0)"><ellipse cx="-6.5" cy="6.8" rx="1.85" ry="5.7" transform="rotate(8 -6.5 6.8)" stroke="#222" stroke-width="1" fill="none"/>
<path d="M-6.6,8 L1.3,-2.8" stroke="#111" stroke-width="1.7" fill="none"/>
<path d="M1.3,-2.8 L8.4,-12.4" stroke="#111" stroke-width="1.35" fill="none"/>
<path d="M8.4,-12.4 L4.3,-2.6 L1.5,-2.6" stroke="#666" stroke-width="0.6" fill="none"/>
<path d="M-3.2,-1.5 L3.5,-1.9" stroke="#111" stroke-width="1.7" fill="none"/>
<path d="M-5.6,4.9 L1.2,5.5" stroke="#222" stroke-width="0.9" fill="none"/>
<path d="M-0.2,4.3 L2.2,5.6 L-0.4,6.6" stroke="#222" stroke-width="0.7" fill="none"/></g>
<g transform="translate(707.0 139.5) rotate(0)"><ellipse cx="-6.5" cy="6.8" rx="1.85" ry="5.7" transform="rotate(8 -6.5 6.8)" stroke="#222" stroke-width="1" fill="none"/>
<path d="M-6.6,8 L1.3,-2.8" stroke="#111" stroke-width="1.7" fill="none"/>
<path d="M1.3,-2.8 L8.4,-12.4" stroke="#111" stroke-width="1.35" fill="none"/>
<path d="M8.4,-12.4 L4.3,-2.6 L1.5,-2.6" stroke="#666" stroke-width="0.6" fill="none"/>
<path d="M-3.2,-1.5 L3.5,-1.9" stroke="#111" stroke-width="1.7" fill="none"/>
<path d="M-5.6,4.9 L1.2,5.5" stroke="#222" stroke-width="0.9" fill="none"/>
<path d="M-0.2,4.3 L2.2,5.6 L-0.4,6.6" stroke="#222" stroke-width="0.7" fill="none"/></g>
<g transform="translate(717.0 148.0) rotate(0)"><ellipse cx="-6.5" cy="6.8" rx="1.85" ry="5.7" transform="rotate(8 -6.5 6.8)" stroke="#222" stroke-width="1" fill="none"/>
<path d="M-6.6,8 L1.3,-2.8" stroke="#111" stroke-width="1.7" fill="none"/>
<path d="M1.3,-2.8 L8.4,-12.4" stroke="#111" stroke-width="1.35" fill="none"/>
<path d="M8.4,-12.4 L4.3,-2.6 L1.5,-2.6" stroke="#666" stroke-width="0.6" fill="none"/>
<path d="M-3.2,-1.5 L3.5,-1.9" stroke="#111" stroke-width="1.7" fill="none"/>
<path d="M-5.6,4.9 L1.2,5.5" stroke="#222" stroke-width="0.9" fill="none"/>
<path d="M-0.2,4.3 L2.2,5.6 L-0.4,6.6" stroke="#222" stroke-width="0.7" fill="none"/></g>
<g transform="translate(727.0 157.0) rotate(0)"><ellipse cx="-6.5" cy="6.8" rx="1.85" ry="5.7" transform="rotate(8 -6.5 6.8)" stroke="#222" stroke-width="1" fill="none"/>
<path d="M-6.6,8 L1.3,-2.8" stroke="#111" stroke-width="1.7" fill="none"/>
<path d="M1.3,-2.8 L8.4,-12.4" stroke="#111" stroke-width="1.35" fill="none"/>
<path d="M8.4,-12.4 L4.3,-2.6 L1.5,-2.6" stroke="#666" stroke-width="0.6" fill="none"/>
<path d="M-3.2,-1.5 L3.5,-1.9" stroke="#111" stroke-width="1.7" fill="none"/>
<path d="M-5.6,4.9 L1.2,5.5" stroke="#222" stroke-width="0.9" fill="none"/>
<path d="M-0.2,4.3 L2.2,5.6 L-0.4,6.6" stroke="#222" stroke-width="0.7" fill="none"/></g>
<g transform="translate(736.5 163.5) rotate(0)"><ellipse cx="-6.5" cy="6.8" rx="1.85" ry="5.7" transform="rotate(8 -6.5 6.8)" stroke="#222" stroke-width="1" fill="none"/>
<path d="M-6.6,8 L1.3,-2.8" stroke="#111" stroke-width="1.7" fill="none"/>
<path d="M1.3,-2.8 L8.4,-12.4" stroke="#111" stroke-width="1.35" fill="none"/>
<path d="M8.4,-12.4 L4.3,-2.6 L1.5,-2.6" stroke="#666" stroke-width="0.6" fill="none"/>
<path d="M-3.2,-1.5 L3.5,-1.9" stroke="#111" stroke-width="1.7" fill="none"/>
<path d="M-5.6,4.9 L1.2,5.5" stroke="#222" stroke-width="0.9" fill="none"/>
<path d="M-0.2,4.3 L2.2,5.6 L-0.4,6.6" stroke="#222" stroke-width="0.7" fill="none"/></g>
<g transform="translate(747.0 171.5) rotate(0)"><ellipse cx="-6.5" cy="6.8" rx="1.85" ry="5.7" transform="rotate(8 -6.5 6.8)" stroke="#222" stroke-width="1" fill="none"/>
<path d="M-6.6,8 L1.3,-2.8" stroke="#111" stroke-width="1.7" fill="none"/>
<path d="M1.3,-2.8 L8.4,-12.4" stroke="#111" stroke-width="1.35" fill="none"/>
<path d="M8.4,-12.4 L4.3,-2.6 L1.5,-2.6" stroke="#666" stroke-width="0.6" fill="none"/>
<path d="M-3.2,-1.5 L3.5,-1.9" stroke="#111" stroke-width="1.7" fill="none"/>
<path d="M-5.6,4.9 L1.2,5.5" stroke="#222" stroke-width="0.9" fill="none"/>
<path d="M-0.2,4.3 L2.2,5.6 L-0.4,6.6" stroke="#222" stroke-width="0.7" fill="none"/></g>
<g transform="translate(760.5 176.0) rotate(0)"><ellipse cx="-6.5" cy="6.8" rx="1.85" ry="5.7" transform="rotate(8 -6.5 6.8)" stroke="#222" stroke-width="1" fill="none"/>
<path d="M-6.6,8 L1.3,-2.8" stroke="#111" stroke-width="1.7" fill="none"/>
<path d="M1.3,-2.8 L8.4,-12.4" stroke="#111" stroke-width="1.35" fill="none"/>
<path d="M8.4,-12.4 L4.3,-2.6 L1.5,-2.6" stroke="#666" stroke-width="0.6" fill="none"/>
<path d="M-3.2,-1.5 L3.5,-1.9" stroke="#111" stroke-width="1.7" fill="none"/>
<path d="M-5.6,4.9 L1.2,5.5" stroke="#222" stroke-width="0.9" fill="none"/>
<path d="M-0.2,4.3 L2.2,5.6 L-0.4,6.6" stroke="#222" stroke-width="0.7" fill="none"/></g>
<g transform="translate(770.5 183.5) rotate(0)"><ellipse cx="-6.5" cy="6.8" rx="1.85" ry="5.7" transform="rotate(8 -6.5 6.8)" stroke="#222" stroke-width="1" fill="none"/>
<path d="M-6.6,8 L1.3,-2.8" stroke="#111" stroke-width="1.7" fill="none"/>
<path d="M1.3,-2.8 L8.4,-12.4" stroke="#111" stroke-width="1.35" fill="none"/>
<path d="M8.4,-12.4 L4.3,-2.6 L1.5,-2.6" stroke="#666" stroke-width="0.6" fill="none"/>
<path d="M-3.2,-1.5 L3.5,-1.9" stroke="#111" stroke-width="1.7" fill="none"/>
<path d="M-5.6,4.9 L1.2,5.5" stroke="#222" stroke-width="0.9" fill="none"/>
<path d="M-0.2,4.3 L2.2,5.6 L-0.4,6.6" stroke="#222" stroke-width="0.7" fill="none"/></g>
<g transform="translate(781.5 191.0) rotate(0)"><ellipse cx="-6.5" cy="6.8" rx="1.85" ry="5.7" transform="rotate(8 -6.5 6.8)" stroke="#222" stroke-width="1" fill="none"/>
<path d="M-6.6,8 L1.3,-2.8" stroke="#111" stroke-width="1.7" fill="none"/>
<path d="M1.3,-2.8 L8.4,-12.4" stroke="#111" stroke-width="1.35" fill="none"/>
<path d="M8.4,-12.4 L4.3,-2.6 L1.5,-2.6" stroke="#666" stroke-width="0.6" fill="none"/>
<path d="M-3.2,-1.5 L3.5,-1.9" stroke="#111" stroke-width="1.7" fill="none"/>
<path d="M-5.6,4.9 L1.2,5.5" stroke="#222" stroke-width="0.9" fill="none"/>
<path d="M-0.2,4.3 L2.2,5.6 L-0.4,6.6" stroke="#222" stroke-width="0.7" fill="none"/></g>
<g transform="translate(792.0 198.0) rotate(0)"><ellipse cx="-6.5" cy="6.8" rx="1.85" ry="5.7" transform="rotate(8 -6.5 6.8)" stroke="#222" stroke-width="1" fill="none"/>
<path d="M-6.6,8 L1.3,-2.8" stroke="#111" stroke-width="1.7" fill="none"/>
<path d="M1.3,-2.8 L8.4,-12.4" stroke="#111" stroke-width="1.35" fill="none"/>
<path d="M8.4,-12.4 L4.3,-2.6 L1.5,-2.6" stroke="#666" stroke-width="0.6" fill="none"/>
<path d="M-3.2,-1.5 L3.5,-1.9" stroke="#111" stroke-width="1.7" fill="none"/>
<path d="M-5.6,4.9 L1.2,5.5" stroke="#222" stroke-width="0.9" fill="none"/>
<path d="M-0.2,4.3 L2.2,5.6 L-0.4,6.6" stroke="#222" stroke-width="0.7" fill="none"/></g>
<g transform="translate(807.4 211.0) rotate(135.5)"><line x1="-16" y1="0" x2="-7" y2="0" stroke="#222" stroke-width="2.1" stroke-dasharray="0.8,0.35"/>
<path d="M-17,0 L-15,-1.05 L-7,-1.1 M-17,0 L-15,1.05 L-7,1.1" stroke="#222" stroke-width="0.5" fill="none"/>
<path d="M-8,-1.1 Q-5,-1.6 -2.5,0 Q-5,1.6 -8,1.1 Z" stroke="#222" stroke-width="0.7" fill="#fff"/>
<line x1="-3" y1="0" x2="4" y2="0" stroke="#222" stroke-width="1.3"/>
<path d="M0.8,-3.3 Q1.3,-4.3 3,-3.7 Q4.2,-2.9 4.1,-1 L4.1,1 Q4.2,2.9 3,3.7 Q1.3,4.3 0.8,3.3" stroke="#222" stroke-width="0.95" fill="none"/>
<path d="M4.1,0 Q8,-1.7 12.5,0 Q8,1.7 4.1,0 Z" stroke="#222" stroke-width="0.75" fill="#ddd"/>
<line x1="12" y1="0" x2="17" y2="0" stroke="#222" stroke-width="0.95"/></g>
<g transform="translate(818.0 223.5) rotate(135.5)"><line x1="-16" y1="0" x2="-7" y2="0" stroke="#222" stroke-width="2.1" stroke-dasharray="0.8,0.35"/>
<path d="M-17,0 L-15,-1.05 L-7,-1.1 M-17,0 L-15,1.05 L-7,1.1" stroke="#222" stroke-width="0.5" fill="none"/>
<path d="M-8,-1.1 Q-5,-1.6 -2.5,0 Q-5,1.6 -8,1.1 Z" stroke="#222" stroke-width="0.7" fill="#fff"/>
<line x1="-3" y1="0" x2="4" y2="0" stroke="#222" stroke-width="1.3"/>
<path d="M0.8,-3.3 Q1.3,-4.3 3,-3.7 Q4.2,-2.9 4.1,-1 L4.1,1 Q4.2,2.9 3,3.7 Q1.3,4.3 0.8,3.3" stroke="#222" stroke-width="0.95" fill="none"/>
<path d="M4.1,0 Q8,-1.7 12.5,0 Q8,1.7 4.1,0 Z" stroke="#222" stroke-width="0.75" fill="#ddd"/>
<line x1="12" y1="0" x2="17" y2="0" stroke="#222" stroke-width="0.95"/></g>
<g transform="translate(830.0 233.0) rotate(135.5)"><line x1="-16" y1="0" x2="-7" y2="0" stroke="#222" stroke-width="2.1" stroke-dasharray="0.8,0.35"/>
<path d="M-17,0 L-15,-1.05 L-7,-1.1 M-17,0 L-15,1.05 L-7,1.1" stroke="#222" stroke-width="0.5" fill="none"/>
<path d="M-8,-1.1 Q-5,-1.6 -2.5,0 Q-5,1.6 -8,1.1 Z" stroke="#222" stroke-width="0.7" fill="#fff"/>
<line x1="-3" y1="0" x2="4" y2="0" stroke="#222" stroke-width="1.3"/>
<path d="M0.8,-3.3 Q1.3,-4.3 3,-3.7 Q4.2,-2.9 4.1,-1 L4.1,1 Q4.2,2.9 3,3.7 Q1.3,4.3 0.8,3.3" stroke="#222" stroke-width="0.95" fill="none"/>
<path d="M4.1,0 Q8,-1.7 12.5,0 Q8,1.7 4.1,0 Z" stroke="#222" stroke-width="0.75" fill="#ddd"/>
<line x1="12" y1="0" x2="17" y2="0" stroke="#222" stroke-width="0.95"/></g>
<g transform="translate(841.0 242.0) rotate(135.5)"><line x1="-16" y1="0" x2="-7" y2="0" stroke="#222" stroke-width="2.1" stroke-dasharray="0.8,0.35"/>
<path d="M-17,0 L-15,-1.05 L-7,-1.1 M-17,0 L-15,1.05 L-7,1.1" stroke="#222" stroke-width="0.5" fill="none"/>
<path d="M-8,-1.1 Q-5,-1.6 -2.5,0 Q-5,1.6 -8,1.1 Z" stroke="#222" stroke-width="0.7" fill="#fff"/>
<line x1="-3" y1="0" x2="4" y2="0" stroke="#222" stroke-width="1.3"/>
<path d="M0.8,-3.3 Q1.3,-4.3 3,-3.7 Q4.2,-2.9 4.1,-1 L4.1,1 Q4.2,2.9 3,3.7 Q1.3,4.3 0.8,3.3" stroke="#222" stroke-width="0.95" fill="none"/>
<path d="M4.1,0 Q8,-1.7 12.5,0 Q8,1.7 4.1,0 Z" stroke="#222" stroke-width="0.75" fill="#ddd"/>
<line x1="12" y1="0" x2="17" y2="0" stroke="#222" stroke-width="0.95"/></g>
<g transform="translate(855.4 248.5) rotate(135.5)"><line x1="-16" y1="0" x2="-7" y2="0" stroke="#222" stroke-width="2.1" stroke-dasharray="0.8,0.35"/>
<path d="M-17,0 L-15,-1.05 L-7,-1.1 M-17,0 L-15,1.05 L-7,1.1" stroke="#222" stroke-width="0.5" fill="none"/>
<path d="M-8,-1.1 Q-5,-1.6 -2.5,0 Q-5,1.6 -8,1.1 Z" stroke="#222" stroke-width="0.7" fill="#fff"/>
<line x1="-3" y1="0" x2="4" y2="0" stroke="#222" stroke-width="1.3"/>
<path d="M0.8,-3.3 Q1.3,-4.3 3,-3.7 Q4.2,-2.9 4.1,-1 L4.1,1 Q4.2,2.9 3,3.7 Q1.3,4.3 0.8,3.3" stroke="#222" stroke-width="0.95" fill="none"/>
<path d="M4.1,0 Q8,-1.7 12.5,0 Q8,1.7 4.1,0 Z" stroke="#222" stroke-width="0.75" fill="#ddd"/>
<line x1="12" y1="0" x2="17" y2="0" stroke="#222" stroke-width="0.95"/></g>
<g transform="translate(871.0 255.4) rotate(135.5)"><line x1="-16" y1="0" x2="-7" y2="0" stroke="#222" stroke-width="2.1" stroke-dasharray="0.8,0.35"/>
<path d="M-17,0 L-15,-1.05 L-7,-1.1 M-17,0 L-15,1.05 L-7,1.1" stroke="#222" stroke-width="0.5" fill="none"/>
<path d="M-8,-1.1 Q-5,-1.6 -2.5,0 Q-5,1.6 -8,1.1 Z" stroke="#222" stroke-width="0.7" fill="#fff"/>
<line x1="-3" y1="0" x2="4" y2="0" stroke="#222" stroke-width="1.3"/>
<path d="M0.8,-3.3 Q1.3,-4.3 3,-3.7 Q4.2,-2.9 4.1,-1 L4.1,1 Q4.2,2.9 3,3.7 Q1.3,4.3 0.8,3.3" stroke="#222" stroke-width="0.95" fill="none"/>
<path d="M4.1,0 Q8,-1.7 12.5,0 Q8,1.7 4.1,0 Z" stroke="#222" stroke-width="0.75" fill="#ddd"/>
<line x1="12" y1="0" x2="17" y2="0" stroke="#222" stroke-width="0.95"/></g>
<g transform="translate(885.0 270.0) rotate(0)"><ellipse cx="-6.5" cy="6.8" rx="1.85" ry="5.7" transform="rotate(8 -6.5 6.8)" stroke="#222" stroke-width="1" fill="none"/>
<path d="M-6.6,8 L1.3,-2.8" stroke="#111" stroke-width="1.7" fill="none"/>
<path d="M1.3,-2.8 L8.4,-12.4" stroke="#111" stroke-width="1.35" fill="none"/>
<path d="M8.4,-12.4 L4.3,-2.6 L1.5,-2.6" stroke="#666" stroke-width="0.6" fill="none"/>
<path d="M-3.2,-1.5 L3.5,-1.9" stroke="#111" stroke-width="1.7" fill="none"/>
<path d="M-5.6,4.9 L1.2,5.5" stroke="#222" stroke-width="0.9" fill="none"/>
<path d="M-0.2,4.3 L2.2,5.6 L-0.4,6.6" stroke="#222" stroke-width="0.7" fill="none"/></g>
<g transform="translate(899.0 275.0) rotate(0)"><ellipse cx="-6.5" cy="6.8" rx="1.85" ry="5.7" transform="rotate(8 -6.5 6.8)" stroke="#222" stroke-width="1" fill="none"/>
<path d="M-6.6,8 L1.3,-2.8" stroke="#111" stroke-width="1.7" fill="none"/>
<path d="M1.3,-2.8 L8.4,-12.4" stroke="#111" stroke-width="1.35" fill="none"/>
<path d="M8.4,-12.4 L4.3,-2.6 L1.5,-2.6" stroke="#666" stroke-width="0.6" fill="none"/>
<path d="M-3.2,-1.5 L3.5,-1.9" stroke="#111" stroke-width="1.7" fill="none"/>
<path d="M-5.6,4.9 L1.2,5.5" stroke="#222" stroke-width="0.9" fill="none"/>
<path d="M-0.2,4.3 L2.2,5.6 L-0.4,6.6" stroke="#222" stroke-width="0.7" fill="none"/></g>
<g transform="translate(909.0 282.5) rotate(0)"><ellipse cx="-6.5" cy="6.8" rx="1.85" ry="5.7" transform="rotate(8 -6.5 6.8)" stroke="#222" stroke-width="1" fill="none"/>
<path d="M-6.6,8 L1.3,-2.8" stroke="#111" stroke-width="1.7" fill="none"/>
<path d="M1.3,-2.8 L8.4,-12.4" stroke="#111" stroke-width="1.35" fill="none"/>
<path d="M8.4,-12.4 L4.3,-2.6 L1.5,-2.6" stroke="#666" stroke-width="0.6" fill="none"/>
<path d="M-3.2,-1.5 L3.5,-1.9" stroke="#111" stroke-width="1.7" fill="none"/>
<path d="M-5.6,4.9 L1.2,5.5" stroke="#222" stroke-width="0.9" fill="none"/>
<path d="M-0.2,4.3 L2.2,5.6 L-0.4,6.6" stroke="#222" stroke-width="0.7" fill="none"/></g>
<g transform="translate(920.0 290.0) rotate(0)"><ellipse cx="-6.5" cy="6.8" rx="1.85" ry="5.7" transform="rotate(8 -6.5 6.8)" stroke="#222" stroke-width="1" fill="none"/>
<path d="M-6.6,8 L1.3,-2.8" stroke="#111" stroke-width="1.7" fill="none"/>
<path d="M1.3,-2.8 L8.4,-12.4" stroke="#111" stroke-width="1.35" fill="none"/>
<path d="M8.4,-12.4 L4.3,-2.6 L1.5,-2.6" stroke="#666" stroke-width="0.6" fill="none"/>
<path d="M-3.2,-1.5 L3.5,-1.9" stroke="#111" stroke-width="1.7" fill="none"/>
<path d="M-5.6,4.9 L1.2,5.5" stroke="#222" stroke-width="0.9" fill="none"/>
<path d="M-0.2,4.3 L2.2,5.6 L-0.4,6.6" stroke="#222" stroke-width="0.7" fill="none"/></g>
<g transform="translate(930.5 297.0) rotate(0)"><ellipse cx="-6.5" cy="6.8" rx="1.85" ry="5.7" transform="rotate(8 -6.5 6.8)" stroke="#222" stroke-width="1" fill="none"/>
<path d="M-6.6,8 L1.3,-2.8" stroke="#111" stroke-width="1.7" fill="none"/>
<path d="M1.3,-2.8 L8.4,-12.4" stroke="#111" stroke-width="1.35" fill="none"/>
<path d="M8.4,-12.4 L4.3,-2.6 L1.5,-2.6" stroke="#666" stroke-width="0.6" fill="none"/>
<path d="M-3.2,-1.5 L3.5,-1.9" stroke="#111" stroke-width="1.7" fill="none"/>
<path d="M-5.6,4.9 L1.2,5.5" stroke="#222" stroke-width="0.9" fill="none"/>
<path d="M-0.2,4.3 L2.2,5.6 L-0.4,6.6" stroke="#222" stroke-width="0.7" fill="none"/></g>
<g transform="translate(941.0 314.0) rotate(135.5)"><line x1="-16" y1="0" x2="-7" y2="0" stroke="#222" stroke-width="2.1" stroke-dasharray="0.8,0.35"/>
<path d="M-17,0 L-15,-1.05 L-7,-1.1 M-17,0 L-15,1.05 L-7,1.1" stroke="#222" stroke-width="0.5" fill="none"/>
<path d="M-8,-1.1 Q-5,-1.6 -2.5,0 Q-5,1.6 -8,1.1 Z" stroke="#222" stroke-width="0.7" fill="#fff"/>
<line x1="-3" y1="0" x2="4" y2="0" stroke="#222" stroke-width="1.3"/>
<path d="M0.8,-3.3 Q1.3,-4.3 3,-3.7 Q4.2,-2.9 4.1,-1 L4.1,1 Q4.2,2.9 3,3.7 Q1.3,4.3 0.8,3.3" stroke="#222" stroke-width="0.95" fill="none"/>
<path d="M4.1,0 Q8,-1.7 12.5,0 Q8,1.7 4.1,0 Z" stroke="#222" stroke-width="0.75" fill="#ddd"/>
<line x1="12" y1="0" x2="17" y2="0" stroke="#222" stroke-width="0.95"/></g>
<g transform="translate(955.6 321.0) rotate(135.5)"><line x1="-16" y1="0" x2="-7" y2="0" stroke="#222" stroke-width="2.1" stroke-dasharray="0.8,0.35"/>
<path d="M-17,0 L-15,-1.05 L-7,-1.1 M-17,0 L-15,1.05 L-7,1.1" stroke="#222" stroke-width="0.5" fill="none"/>
<path d="M-8,-1.1 Q-5,-1.6 -2.5,0 Q-5,1.6 -8,1.1 Z" stroke="#222" stroke-width="0.7" fill="#fff"/>
<line x1="-3" y1="0" x2="4" y2="0" stroke="#222" stroke-width="1.3"/>
<path d="M0.8,-3.3 Q1.3,-4.3 3,-3.7 Q4.2,-2.9 4.1,-1 L4.1,1 Q4.2,2.9 3,3.7 Q1.3,4.3 0.8,3.3" stroke="#222" stroke-width="0.95" fill="none"/>
<path d="M4.1,0 Q8,-1.7 12.5,0 Q8,1.7 4.1,0 Z" stroke="#222" stroke-width="0.75" fill="#ddd"/>
<line x1="12" y1="0" x2="17" y2="0" stroke="#222" stroke-width="0.95"/></g>
<g transform="translate(951.0 341.8) rotate(-90)"><path d="M0,-6.3 L0,6.3 M-3.6,2 L3.6,2 M-1.6,-2.3 L1.6,-3.3" stroke="#111" stroke-width="1.3" fill="none"/>
<path d="M-2.1,-4.3 L2.1,-4.3 L0,-6.9 Z" fill="#111"/></g>
<g transform="translate(944.8 351.8) rotate(-90)"><path d="M0,-6.3 L0,6.3 M-3.6,2 L3.6,2 M-1.6,-2.3 L1.6,-3.3" stroke="#111" stroke-width="1.3" fill="none"/>
<path d="M-2.1,-4.3 L2.1,-4.3 L0,-6.9 Z" fill="#111"/></g>
<g transform="translate(935.0 362.5) rotate(-90)"><path d="M0,-6.3 L0,6.3 M-3.6,2 L3.6,2 M-1.6,-2.3 L1.6,-3.3" stroke="#111" stroke-width="1.3" fill="none"/>
<path d="M-2.1,-4.3 L2.1,-4.3 L0,-6.9 Z" fill="#111"/></g>
<g transform="translate(935.5 376.0) rotate(-90)"><path d="M0,-6.3 L0,6.3 M-3.6,2 L3.6,2 M-1.6,-2.3 L1.6,-3.3" stroke="#111" stroke-width="1.3" fill="none"/>
<path d="M-2.1,-4.3 L2.1,-4.3 L0,-6.9 Z" fill="#111"/></g>
<g transform="translate(928.8 385.5) rotate(-90)"><path d="M0,-6.3 L0,6.3 M-3.6,2 L3.6,2 M-1.6,-2.3 L1.6,-3.3" stroke="#111" stroke-width="1.3" fill="none"/>
<path d="M-2.1,-4.3 L2.1,-4.3 L0,-6.9 Z" fill="#111"/></g>
<g transform="translate(919.0 396.8) rotate(-90)"><path d="M0,-6.3 L0,6.3 M-3.6,2 L3.6,2 M-1.6,-2.3 L1.6,-3.3" stroke="#111" stroke-width="1.3" fill="none"/>
<path d="M-2.1,-4.3 L2.1,-4.3 L0,-6.9 Z" fill="#111"/></g>
<g transform="translate(666.6 224.0) rotate(-44.5)"><line x1="-16" y1="0" x2="-7" y2="0" stroke="#222" stroke-width="2.1" stroke-dasharray="0.8,0.35"/>
<path d="M-17,0 L-15,-1.05 L-7,-1.1 M-17,0 L-15,1.05 L-7,1.1" stroke="#222" stroke-width="0.5" fill="none"/>
<path d="M-8,-1.1 Q-5,-1.6 -2.5,0 Q-5,1.6 -8,1.1 Z" stroke="#222" stroke-width="0.7" fill="#fff"/>
<line x1="-3" y1="0" x2="4" y2="0" stroke="#222" stroke-width="1.3"/>
<path d="M0.8,-3.3 Q1.3,-4.3 3,-3.7 Q4.2,-2.9 4.1,-1 L4.1,1 Q4.2,2.9 3,3.7 Q1.3,4.3 0.8,3.3" stroke="#222" stroke-width="0.95" fill="none"/>
<path d="M4.1,0 Q8,-1.7 12.5,0 Q8,1.7 4.1,0 Z" stroke="#222" stroke-width="0.75" fill="#ddd"/>
<line x1="12" y1="0" x2="17" y2="0" stroke="#222" stroke-width="0.95"/></g>
<g transform="translate(683.0 230.6) rotate(-44.5)"><line x1="-16" y1="0" x2="-7" y2="0" stroke="#222" stroke-width="2.1" stroke-dasharray="0.8,0.35"/>
<path d="M-17,0 L-15,-1.05 L-7,-1.1 M-17,0 L-15,1.05 L-7,1.1" stroke="#222" stroke-width="0.5" fill="none"/>
<path d="M-8,-1.1 Q-5,-1.6 -2.5,0 Q-5,1.6 -8,1.1 Z" stroke="#222" stroke-width="0.7" fill="#fff"/>
<line x1="-3" y1="0" x2="4" y2="0" stroke="#222" stroke-width="1.3"/>
<path d="M0.8,-3.3 Q1.3,-4.3 3,-3.7 Q4.2,-2.9 4.1,-1 L4.1,1 Q4.2,2.9 3,3.7 Q1.3,4.3 0.8,3.3" stroke="#222" stroke-width="0.95" fill="none"/>
<path d="M4.1,0 Q8,-1.7 12.5,0 Q8,1.7 4.1,0 Z" stroke="#222" stroke-width="0.75" fill="#ddd"/>
<line x1="12" y1="0" x2="17" y2="0" stroke="#222" stroke-width="0.95"/></g>
<g transform="translate(697.0 237.5) rotate(-44.5)"><line x1="-16" y1="0" x2="-7" y2="0" stroke="#222" stroke-width="2.1" stroke-dasharray="0.8,0.35"/>
<path d="M-17,0 L-15,-1.05 L-7,-1.1 M-17,0 L-15,1.05 L-7,1.1" stroke="#222" stroke-width="0.5" fill="none"/>
<path d="M-8,-1.1 Q-5,-1.6 -2.5,0 Q-5,1.6 -8,1.1 Z" stroke="#222" stroke-width="0.7" fill="#fff"/>
<line x1="-3" y1="0" x2="4" y2="0" stroke="#222" stroke-width="1.3"/>
<path d="M0.8,-3.3 Q1.3,-4.3 3,-3.7 Q4.2,-2.9 4.1,-1 L4.1,1 Q4.2,2.9 3,3.7 Q1.3,4.3 0.8,3.3" stroke="#222" stroke-width="0.95" fill="none"/>
<path d="M4.1,0 Q8,-1.7 12.5,0 Q8,1.7 4.1,0 Z" stroke="#222" stroke-width="0.75" fill="#ddd"/>
<line x1="12" y1="0" x2="17" y2="0" stroke="#222" stroke-width="0.95"/></g>
<g transform="translate(708.0 247.0) rotate(-44.5)"><line x1="-16" y1="0" x2="-7" y2="0" stroke="#222" stroke-width="2.1" stroke-dasharray="0.8,0.35"/>
<path d="M-17,0 L-15,-1.05 L-7,-1.1 M-17,0 L-15,1.05 L-7,1.1" stroke="#222" stroke-width="0.5" fill="none"/>
<path d="M-8,-1.1 Q-5,-1.6 -2.5,0 Q-5,1.6 -8,1.1 Z" stroke="#222" stroke-width="0.7" fill="#fff"/>
<line x1="-3" y1="0" x2="4" y2="0" stroke="#222" stroke-width="1.3"/>
<path d="M0.8,-3.3 Q1.3,-4.3 3,-3.7 Q4.2,-2.9 4.1,-1 L4.1,1 Q4.2,2.9 3,3.7 Q1.3,4.3 0.8,3.3" stroke="#222" stroke-width="0.95" fill="none"/>
<path d="M4.1,0 Q8,-1.7 12.5,0 Q8,1.7 4.1,0 Z" stroke="#222" stroke-width="0.75" fill="#ddd"/>
<line x1="12" y1="0" x2="17" y2="0" stroke="#222" stroke-width="0.95"/></g>
<g transform="translate(720.0 256.0) rotate(-44.5)"><line x1="-16" y1="0" x2="-7" y2="0" stroke="#222" stroke-width="2.1" stroke-dasharray="0.8,0.35"/>
<path d="M-17,0 L-15,-1.05 L-7,-1.1 M-17,0 L-15,1.05 L-7,1.1" stroke="#222" stroke-width="0.5" fill="none"/>
<path d="M-8,-1.1 Q-5,-1.6 -2.5,0 Q-5,1.6 -8,1.1 Z" stroke="#222" stroke-width="0.7" fill="#fff"/>
<line x1="-3" y1="0" x2="4" y2="0" stroke="#222" stroke-width="1.3"/>
<path d="M0.8,-3.3 Q1.3,-4.3 3,-3.7 Q4.2,-2.9 4.1,-1 L4.1,1 Q4.2,2.9 3,3.7 Q1.3,4.3 0.8,3.3" stroke="#222" stroke-width="0.95" fill="none"/>
<path d="M4.1,0 Q8,-1.7 12.5,0 Q8,1.7 4.1,0 Z" stroke="#222" stroke-width="0.75" fill="#ddd"/>
<line x1="12" y1="0" x2="17" y2="0" stroke="#222" stroke-width="0.95"/></g>
<g transform="translate(730.6 268.0) rotate(-44.5)"><line x1="-16" y1="0" x2="-7" y2="0" stroke="#222" stroke-width="2.1" stroke-dasharray="0.8,0.35"/>
<path d="M-17,0 L-15,-1.05 L-7,-1.1 M-17,0 L-15,1.05 L-7,1.1" stroke="#222" stroke-width="0.5" fill="none"/>
<path d="M-8,-1.1 Q-5,-1.6 -2.5,0 Q-5,1.6 -8,1.1 Z" stroke="#222" stroke-width="0.7" fill="#fff"/>
<line x1="-3" y1="0" x2="4" y2="0" stroke="#222" stroke-width="1.3"/>
<path d="M0.8,-3.3 Q1.3,-4.3 3,-3.7 Q4.2,-2.9 4.1,-1 L4.1,1 Q4.2,2.9 3,3.7 Q1.3,4.3 0.8,3.3" stroke="#222" stroke-width="0.95" fill="none"/>
<path d="M4.1,0 Q8,-1.7 12.5,0 Q8,1.7 4.1,0 Z" stroke="#222" stroke-width="0.75" fill="#ddd"/>
<line x1="12" y1="0" x2="17" y2="0" stroke="#222" stroke-width="0.95"/></g>
<g transform="translate(746.6 275.0) rotate(-44.5)"><line x1="-16" y1="0" x2="-7" y2="0" stroke="#222" stroke-width="2.1" stroke-dasharray="0.8,0.35"/>
<path d="M-17,0 L-15,-1.05 L-7,-1.1 M-17,0 L-15,1.05 L-7,1.1" stroke="#222" stroke-width="0.5" fill="none"/>
<path d="M-8,-1.1 Q-5,-1.6 -2.5,0 Q-5,1.6 -8,1.1 Z" stroke="#222" stroke-width="0.7" fill="#fff"/>
<line x1="-3" y1="0" x2="4" y2="0" stroke="#222" stroke-width="1.3"/>
<path d="M0.8,-3.3 Q1.3,-4.3 3,-3.7 Q4.2,-2.9 4.1,-1 L4.1,1 Q4.2,2.9 3,3.7 Q1.3,4.3 0.8,3.3" stroke="#222" stroke-width="0.95" fill="none"/>
<path d="M4.1,0 Q8,-1.7 12.5,0 Q8,1.7 4.1,0 Z" stroke="#222" stroke-width="0.75" fill="#ddd"/>
<line x1="12" y1="0" x2="17" y2="0" stroke="#222" stroke-width="0.95"/></g>
<g transform="translate(761.0 282.0) rotate(-44.5)"><line x1="-16" y1="0" x2="-7" y2="0" stroke="#222" stroke-width="2.1" stroke-dasharray="0.8,0.35"/>
<path d="M-17,0 L-15,-1.05 L-7,-1.1 M-17,0 L-15,1.05 L-7,1.1" stroke="#222" stroke-width="0.5" fill="none"/>
<path d="M-8,-1.1 Q-5,-1.6 -2.5,0 Q-5,1.6 -8,1.1 Z" stroke="#222" stroke-width="0.7" fill="#fff"/>
<line x1="-3" y1="0" x2="4" y2="0" stroke="#222" stroke-width="1.3"/>
<path d="M0.8,-3.3 Q1.3,-4.3 3,-3.7 Q4.2,-2.9 4.1,-1 L4.1,1 Q4.2,2.9 3,3.7 Q1.3,4.3 0.8,3.3" stroke="#222" stroke-width="0.95" fill="none"/>
<path d="M4.1,0 Q8,-1.7 12.5,0 Q8,1.7 4.1,0 Z" stroke="#222" stroke-width="0.75" fill="#ddd"/>
<line x1="12" y1="0" x2="17" y2="0" stroke="#222" stroke-width="0.95"/></g>
<g transform="translate(772.5 291.3) rotate(-44.5)"><line x1="-16" y1="0" x2="-7" y2="0" stroke="#222" stroke-width="2.1" stroke-dasharray="0.8,0.35"/>
<path d="M-17,0 L-15,-1.05 L-7,-1.1 M-17,0 L-15,1.05 L-7,1.1" stroke="#222" stroke-width="0.5" fill="none"/>
<path d="M-8,-1.1 Q-5,-1.6 -2.5,0 Q-5,1.6 -8,1.1 Z" stroke="#222" stroke-width="0.7" fill="#fff"/>
<line x1="-3" y1="0" x2="4" y2="0" stroke="#222" stroke-width="1.3"/>
<path d="M0.8,-3.3 Q1.3,-4.3 3,-3.7 Q4.2,-2.9 4.1,-1 L4.1,1 Q4.2,2.9 3,3.7 Q1.3,4.3 0.8,3.3" stroke="#222" stroke-width="0.95" fill="none"/>
<path d="M4.1,0 Q8,-1.7 12.5,0 Q8,1.7 4.1,0 Z" stroke="#222" stroke-width="0.75" fill="#ddd"/>
<line x1="12" y1="0" x2="17" y2="0" stroke="#222" stroke-width="0.95"/></g>
<g transform="translate(784.0 300.0) rotate(-44.5)"><line x1="-16" y1="0" x2="-7" y2="0" stroke="#222" stroke-width="2.1" stroke-dasharray="0.8,0.35"/>
<path d="M-17,0 L-15,-1.05 L-7,-1.1 M-17,0 L-15,1.05 L-7,1.1" stroke="#222" stroke-width="0.5" fill="none"/>
<path d="M-8,-1.1 Q-5,-1.6 -2.5,0 Q-5,1.6 -8,1.1 Z" stroke="#222" stroke-width="0.7" fill="#fff"/>
<line x1="-3" y1="0" x2="4" y2="0" stroke="#222" stroke-width="1.3"/>
<path d="M0.8,-3.3 Q1.3,-4.3 3,-3.7 Q4.2,-2.9 4.1,-1 L4.1,1 Q4.2,2.9 3,3.7 Q1.3,4.3 0.8,3.3" stroke="#222" stroke-width="0.95" fill="none"/>
<path d="M4.1,0 Q8,-1.7 12.5,0 Q8,1.7 4.1,0 Z" stroke="#222" stroke-width="0.75" fill="#ddd"/>
<line x1="12" y1="0" x2="17" y2="0" stroke="#222" stroke-width="0.95"/></g>
<g transform="translate(791.0 316.6) rotate(-44.5)"><line x1="-16" y1="0" x2="-7" y2="0" stroke="#222" stroke-width="2.1" stroke-dasharray="0.8,0.35"/>
<path d="M-17,0 L-15,-1.05 L-7,-1.1 M-17,0 L-15,1.05 L-7,1.1" stroke="#222" stroke-width="0.5" fill="none"/>
<path d="M-8,-1.1 Q-5,-1.6 -2.5,0 Q-5,1.6 -8,1.1 Z" stroke="#222" stroke-width="0.7" fill="#fff"/>
<line x1="-3" y1="0" x2="4" y2="0" stroke="#222" stroke-width="1.3"/>
<path d="M0.8,-3.3 Q1.3,-4.3 3,-3.7 Q4.2,-2.9 4.1,-1 L4.1,1 Q4.2,2.9 3,3.7 Q1.3,4.3 0.8,3.3" stroke="#222" stroke-width="0.95" fill="none"/>
<path d="M4.1,0 Q8,-1.7 12.5,0 Q8,1.7 4.1,0 Z" stroke="#222" stroke-width="0.75" fill="#ddd"/>
<line x1="12" y1="0" x2="17" y2="0" stroke="#222" stroke-width="0.95"/></g>
<g transform="translate(802.0 325.6) rotate(-44.5)"><line x1="-16" y1="0" x2="-7" y2="0" stroke="#222" stroke-width="2.1" stroke-dasharray="0.8,0.35"/>
<path d="M-17,0 L-15,-1.05 L-7,-1.1 M-17,0 L-15,1.05 L-7,1.1" stroke="#222" stroke-width="0.5" fill="none"/>
<path d="M-8,-1.1 Q-5,-1.6 -2.5,0 Q-5,1.6 -8,1.1 Z" stroke="#222" stroke-width="0.7" fill="#fff"/>
<line x1="-3" y1="0" x2="4" y2="0" stroke="#222" stroke-width="1.3"/>
<path d="M0.8,-3.3 Q1.3,-4.3 3,-3.7 Q4.2,-2.9 4.1,-1 L4.1,1 Q4.2,2.9 3,3.7 Q1.3,4.3 0.8,3.3" stroke="#222" stroke-width="0.95" fill="none"/>
<path d="M4.1,0 Q8,-1.7 12.5,0 Q8,1.7 4.1,0 Z" stroke="#222" stroke-width="0.75" fill="#ddd"/>
<line x1="12" y1="0" x2="17" y2="0" stroke="#222" stroke-width="0.95"/></g>
<g transform="translate(636.8 257.0) rotate(0)"><ellipse cx="-6.5" cy="6.8" rx="1.85" ry="5.7" transform="rotate(8 -6.5 6.8)" stroke="#222" stroke-width="1" fill="none"/>
<path d="M-6.6,8 L1.3,-2.8" stroke="#111" stroke-width="1.7" fill="none"/>
<path d="M1.3,-2.8 L8.4,-12.4" stroke="#111" stroke-width="1.35" fill="none"/>
<path d="M8.4,-12.4 L4.3,-2.6 L1.5,-2.6" stroke="#666" stroke-width="0.6" fill="none"/>
<path d="M-3.2,-1.5 L3.5,-1.9" stroke="#111" stroke-width="1.7" fill="none"/>
<path d="M-5.6,4.9 L1.2,5.5" stroke="#222" stroke-width="0.9" fill="none"/>
<path d="M-0.2,4.3 L2.2,5.6 L-0.4,6.6" stroke="#222" stroke-width="0.7" fill="none"/></g>
<g transform="translate(647.0 265.0) rotate(0)"><ellipse cx="-6.5" cy="6.8" rx="1.85" ry="5.7" transform="rotate(8 -6.5 6.8)" stroke="#222" stroke-width="1" fill="none"/>
<path d="M-6.6,8 L1.3,-2.8" stroke="#111" stroke-width="1.7" fill="none"/>
<path d="M1.3,-2.8 L8.4,-12.4" stroke="#111" stroke-width="1.35" fill="none"/>
<path d="M8.4,-12.4 L4.3,-2.6 L1.5,-2.6" stroke="#666" stroke-width="0.6" fill="none"/>
<path d="M-3.2,-1.5 L3.5,-1.9" stroke="#111" stroke-width="1.7" fill="none"/>
<path d="M-5.6,4.9 L1.2,5.5" stroke="#222" stroke-width="0.9" fill="none"/>
<path d="M-0.2,4.3 L2.2,5.6 L-0.4,6.6" stroke="#222" stroke-width="0.7" fill="none"/></g>
<g transform="translate(660.6 270.0) rotate(0)"><ellipse cx="-6.5" cy="6.8" rx="1.85" ry="5.7" transform="rotate(8 -6.5 6.8)" stroke="#222" stroke-width="1" fill="none"/>
<path d="M-6.6,8 L1.3,-2.8" stroke="#111" stroke-width="1.7" fill="none"/>
<path d="M1.3,-2.8 L8.4,-12.4" stroke="#111" stroke-width="1.35" fill="none"/>
<path d="M8.4,-12.4 L4.3,-2.6 L1.5,-2.6" stroke="#666" stroke-width="0.6" fill="none"/>
<path d="M-3.2,-1.5 L3.5,-1.9" stroke="#111" stroke-width="1.7" fill="none"/>
<path d="M-5.6,4.9 L1.2,5.5" stroke="#222" stroke-width="0.9" fill="none"/>
<path d="M-0.2,4.3 L2.2,5.6 L-0.4,6.6" stroke="#222" stroke-width="0.7" fill="none"/></g>
<g transform="translate(671.0 277.5) rotate(0)"><ellipse cx="-6.5" cy="6.8" rx="1.85" ry="5.7" transform="rotate(8 -6.5 6.8)" stroke="#222" stroke-width="1" fill="none"/>
<path d="M-6.6,8 L1.3,-2.8" stroke="#111" stroke-width="1.7" fill="none"/>
<path d="M1.3,-2.8 L8.4,-12.4" stroke="#111" stroke-width="1.35" fill="none"/>
<path d="M8.4,-12.4 L4.3,-2.6 L1.5,-2.6" stroke="#666" stroke-width="0.6" fill="none"/>
<path d="M-3.2,-1.5 L3.5,-1.9" stroke="#111" stroke-width="1.7" fill="none"/>
<path d="M-5.6,4.9 L1.2,5.5" stroke="#222" stroke-width="0.9" fill="none"/>
<path d="M-0.2,4.3 L2.2,5.6 L-0.4,6.6" stroke="#222" stroke-width="0.7" fill="none"/></g>
<g transform="translate(681.8 285.0) rotate(0)"><ellipse cx="-6.5" cy="6.8" rx="1.85" ry="5.7" transform="rotate(8 -6.5 6.8)" stroke="#222" stroke-width="1" fill="none"/>
<path d="M-6.6,8 L1.3,-2.8" stroke="#111" stroke-width="1.7" fill="none"/>
<path d="M1.3,-2.8 L8.4,-12.4" stroke="#111" stroke-width="1.35" fill="none"/>
<path d="M8.4,-12.4 L4.3,-2.6 L1.5,-2.6" stroke="#666" stroke-width="0.6" fill="none"/>
<path d="M-3.2,-1.5 L3.5,-1.9" stroke="#111" stroke-width="1.7" fill="none"/>
<path d="M-5.6,4.9 L1.2,5.5" stroke="#222" stroke-width="0.9" fill="none"/>
<path d="M-0.2,4.3 L2.2,5.6 L-0.4,6.6" stroke="#222" stroke-width="0.7" fill="none"/></g>
<g transform="translate(692.0 292.0) rotate(0)"><ellipse cx="-6.5" cy="6.8" rx="1.85" ry="5.7" transform="rotate(8 -6.5 6.8)" stroke="#222" stroke-width="1" fill="none"/>
<path d="M-6.6,8 L1.3,-2.8" stroke="#111" stroke-width="1.7" fill="none"/>
<path d="M1.3,-2.8 L8.4,-12.4" stroke="#111" stroke-width="1.35" fill="none"/>
<path d="M8.4,-12.4 L4.3,-2.6 L1.5,-2.6" stroke="#666" stroke-width="0.6" fill="none"/>
<path d="M-3.2,-1.5 L3.5,-1.9" stroke="#111" stroke-width="1.7" fill="none"/>
<path d="M-5.6,4.9 L1.2,5.5" stroke="#222" stroke-width="0.9" fill="none"/>
<path d="M-0.2,4.3 L2.2,5.6 L-0.4,6.6" stroke="#222" stroke-width="0.7" fill="none"/></g>
<g transform="translate(698.5 301.3) rotate(0)"><ellipse cx="-6.5" cy="6.8" rx="1.85" ry="5.7" transform="rotate(8 -6.5 6.8)" stroke="#222" stroke-width="1" fill="none"/>
<path d="M-6.6,8 L1.3,-2.8" stroke="#111" stroke-width="1.7" fill="none"/>
<path d="M1.3,-2.8 L8.4,-12.4" stroke="#111" stroke-width="1.35" fill="none"/>
<path d="M8.4,-12.4 L4.3,-2.6 L1.5,-2.6" stroke="#666" stroke-width="0.6" fill="none"/>
<path d="M-3.2,-1.5 L3.5,-1.9" stroke="#111" stroke-width="1.7" fill="none"/>
<path d="M-5.6,4.9 L1.2,5.5" stroke="#222" stroke-width="0.9" fill="none"/>
<path d="M-0.2,4.3 L2.2,5.6 L-0.4,6.6" stroke="#222" stroke-width="0.7" fill="none"/></g>
<g transform="translate(708.9 308.5) rotate(0)"><ellipse cx="-6.5" cy="6.8" rx="1.85" ry="5.7" transform="rotate(8 -6.5 6.8)" stroke="#222" stroke-width="1" fill="none"/>
<path d="M-6.6,8 L1.3,-2.8" stroke="#111" stroke-width="1.7" fill="none"/>
<path d="M1.3,-2.8 L8.4,-12.4" stroke="#111" stroke-width="1.35" fill="none"/>
<path d="M8.4,-12.4 L4.3,-2.6 L1.5,-2.6" stroke="#666" stroke-width="0.6" fill="none"/>
<path d="M-3.2,-1.5 L3.5,-1.9" stroke="#111" stroke-width="1.7" fill="none"/>
<path d="M-5.6,4.9 L1.2,5.5" stroke="#222" stroke-width="0.9" fill="none"/>
<path d="M-0.2,4.3 L2.2,5.6 L-0.4,6.6" stroke="#222" stroke-width="0.7" fill="none"/></g>
<g transform="translate(722.8 313.0) rotate(0)"><ellipse cx="-6.5" cy="6.8" rx="1.85" ry="5.7" transform="rotate(8 -6.5 6.8)" stroke="#222" stroke-width="1" fill="none"/>
<path d="M-6.6,8 L1.3,-2.8" stroke="#111" stroke-width="1.7" fill="none"/>
<path d="M1.3,-2.8 L8.4,-12.4" stroke="#111" stroke-width="1.35" fill="none"/>
<path d="M8.4,-12.4 L4.3,-2.6 L1.5,-2.6" stroke="#666" stroke-width="0.6" fill="none"/>
<path d="M-3.2,-1.5 L3.5,-1.9" stroke="#111" stroke-width="1.7" fill="none"/>
<path d="M-5.6,4.9 L1.2,5.5" stroke="#222" stroke-width="0.9" fill="none"/>
<path d="M-0.2,4.3 L2.2,5.6 L-0.4,6.6" stroke="#222" stroke-width="0.7" fill="none"/></g>
<g transform="translate(732.8 320.6) rotate(0)"><ellipse cx="-6.5" cy="6.8" rx="1.85" ry="5.7" transform="rotate(8 -6.5 6.8)" stroke="#222" stroke-width="1" fill="none"/>
<path d="M-6.6,8 L1.3,-2.8" stroke="#111" stroke-width="1.7" fill="none"/>
<path d="M1.3,-2.8 L8.4,-12.4" stroke="#111" stroke-width="1.35" fill="none"/>
<path d="M8.4,-12.4 L4.3,-2.6 L1.5,-2.6" stroke="#666" stroke-width="0.6" fill="none"/>
<path d="M-3.2,-1.5 L3.5,-1.9" stroke="#111" stroke-width="1.7" fill="none"/>
<path d="M-5.6,4.9 L1.2,5.5" stroke="#222" stroke-width="0.9" fill="none"/>
<path d="M-0.2,4.3 L2.2,5.6 L-0.4,6.6" stroke="#222" stroke-width="0.7" fill="none"/></g>
<g transform="translate(744.0 328.0) rotate(0)"><ellipse cx="-6.5" cy="6.8" rx="1.85" ry="5.7" transform="rotate(8 -6.5 6.8)" stroke="#222" stroke-width="1" fill="none"/>
<path d="M-6.6,8 L1.3,-2.8" stroke="#111" stroke-width="1.7" fill="none"/>
<path d="M1.3,-2.8 L8.4,-12.4" stroke="#111" stroke-width="1.35" fill="none"/>
<path d="M8.4,-12.4 L4.3,-2.6 L1.5,-2.6" stroke="#666" stroke-width="0.6" fill="none"/>
<path d="M-3.2,-1.5 L3.5,-1.9" stroke="#111" stroke-width="1.7" fill="none"/>
<path d="M-5.6,4.9 L1.2,5.5" stroke="#222" stroke-width="0.9" fill="none"/>
<path d="M-0.2,4.3 L2.2,5.6 L-0.4,6.6" stroke="#222" stroke-width="0.7" fill="none"/></g>
<g transform="translate(754.0 335.0) rotate(0)"><ellipse cx="-6.5" cy="6.8" rx="1.85" ry="5.7" transform="rotate(8 -6.5 6.8)" stroke="#222" stroke-width="1" fill="none"/>
<path d="M-6.6,8 L1.3,-2.8" stroke="#111" stroke-width="1.7" fill="none"/>
<path d="M1.3,-2.8 L8.4,-12.4" stroke="#111" stroke-width="1.35" fill="none"/>
<path d="M8.4,-12.4 L4.3,-2.6 L1.5,-2.6" stroke="#666" stroke-width="0.6" fill="none"/>
<path d="M-3.2,-1.5 L3.5,-1.9" stroke="#111" stroke-width="1.7" fill="none"/>
<path d="M-5.6,4.9 L1.2,5.5" stroke="#222" stroke-width="0.9" fill="none"/>
<path d="M-0.2,4.3 L2.2,5.6 L-0.4,6.6" stroke="#222" stroke-width="0.7" fill="none"/></g>
<g transform="translate(716.0 406.0) rotate(0)"><ellipse cx="-6.5" cy="6.8" rx="1.85" ry="5.7" transform="rotate(8 -6.5 6.8)" stroke="#222" stroke-width="1" fill="none"/>
<path d="M-6.6,8 L1.3,-2.8" stroke="#111" stroke-width="1.7" fill="none"/>
<path d="M1.3,-2.8 L8.4,-12.4" stroke="#111" stroke-width="1.35" fill="none"/>
<path d="M8.4,-12.4 L4.3,-2.6 L1.5,-2.6" stroke="#666" stroke-width="0.6" fill="none"/>
<path d="M-3.2,-1.5 L3.5,-1.9" stroke="#111" stroke-width="1.7" fill="none"/>
<path d="M-5.6,4.9 L1.2,5.5" stroke="#222" stroke-width="0.9" fill="none"/>
<path d="M-0.2,4.3 L2.2,5.6 L-0.4,6.6" stroke="#222" stroke-width="0.7" fill="none"/></g>
<g transform="translate(729.8 410.0) rotate(0)"><ellipse cx="-6.5" cy="6.8" rx="1.85" ry="5.7" transform="rotate(8 -6.5 6.8)" stroke="#222" stroke-width="1" fill="none"/>
<path d="M-6.6,8 L1.3,-2.8" stroke="#111" stroke-width="1.7" fill="none"/>
<path d="M1.3,-2.8 L8.4,-12.4" stroke="#111" stroke-width="1.35" fill="none"/>
<path d="M8.4,-12.4 L4.3,-2.6 L1.5,-2.6" stroke="#666" stroke-width="0.6" fill="none"/>
<path d="M-3.2,-1.5 L3.5,-1.9" stroke="#111" stroke-width="1.7" fill="none"/>
<path d="M-5.6,4.9 L1.2,5.5" stroke="#222" stroke-width="0.9" fill="none"/>
<path d="M-0.2,4.3 L2.2,5.6 L-0.4,6.6" stroke="#222" stroke-width="0.7" fill="none"/></g>
<g transform="translate(739.8 418.0) rotate(0)"><ellipse cx="-6.5" cy="6.8" rx="1.85" ry="5.7" transform="rotate(8 -6.5 6.8)" stroke="#222" stroke-width="1" fill="none"/>
<path d="M-6.6,8 L1.3,-2.8" stroke="#111" stroke-width="1.7" fill="none"/>
<path d="M1.3,-2.8 L8.4,-12.4" stroke="#111" stroke-width="1.35" fill="none"/>
<path d="M8.4,-12.4 L4.3,-2.6 L1.5,-2.6" stroke="#666" stroke-width="0.6" fill="none"/>
<path d="M-3.2,-1.5 L3.5,-1.9" stroke="#111" stroke-width="1.7" fill="none"/>
<path d="M-5.6,4.9 L1.2,5.5" stroke="#222" stroke-width="0.9" fill="none"/>
<path d="M-0.2,4.3 L2.2,5.6 L-0.4,6.6" stroke="#222" stroke-width="0.7" fill="none"/></g>
<g transform="translate(751.0 425.0) rotate(0)"><ellipse cx="-6.5" cy="6.8" rx="1.85" ry="5.7" transform="rotate(8 -6.5 6.8)" stroke="#222" stroke-width="1" fill="none"/>
<path d="M-6.6,8 L1.3,-2.8" stroke="#111" stroke-width="1.7" fill="none"/>
<path d="M1.3,-2.8 L8.4,-12.4" stroke="#111" stroke-width="1.35" fill="none"/>
<path d="M8.4,-12.4 L4.3,-2.6 L1.5,-2.6" stroke="#666" stroke-width="0.6" fill="none"/>
<path d="M-3.2,-1.5 L3.5,-1.9" stroke="#111" stroke-width="1.7" fill="none"/>
<path d="M-5.6,4.9 L1.2,5.5" stroke="#222" stroke-width="0.9" fill="none"/>
<path d="M-0.2,4.3 L2.2,5.6 L-0.4,6.6" stroke="#222" stroke-width="0.7" fill="none"/></g>
<g transform="translate(761.0 433.0) rotate(0)"><ellipse cx="-6.5" cy="6.8" rx="1.85" ry="5.7" transform="rotate(8 -6.5 6.8)" stroke="#222" stroke-width="1" fill="none"/>
<path d="M-6.6,8 L1.3,-2.8" stroke="#111" stroke-width="1.7" fill="none"/>
<path d="M1.3,-2.8 L8.4,-12.4" stroke="#111" stroke-width="1.35" fill="none"/>
<path d="M8.4,-12.4 L4.3,-2.6 L1.5,-2.6" stroke="#666" stroke-width="0.6" fill="none"/>
<path d="M-3.2,-1.5 L3.5,-1.9" stroke="#111" stroke-width="1.7" fill="none"/>
<path d="M-5.6,4.9 L1.2,5.5" stroke="#222" stroke-width="0.9" fill="none"/>
<path d="M-0.2,4.3 L2.2,5.6 L-0.4,6.6" stroke="#222" stroke-width="0.7" fill="none"/></g>
<g transform="translate(799.0 451.5) rotate(45)"><line x1="-16" y1="0" x2="-7" y2="0" stroke="#222" stroke-width="2.1" stroke-dasharray="0.8,0.35"/>
<path d="M-17,0 L-15,-1.05 L-7,-1.1 M-17,0 L-15,1.05 L-7,1.1" stroke="#222" stroke-width="0.5" fill="none"/>
<path d="M-8,-1.1 Q-5,-1.6 -2.5,0 Q-5,1.6 -8,1.1 Z" stroke="#222" stroke-width="0.7" fill="#fff"/>
<line x1="-3" y1="0" x2="4" y2="0" stroke="#222" stroke-width="1.3"/>
<path d="M0.8,-3.3 Q1.3,-4.3 3,-3.7 Q4.2,-2.9 4.1,-1 L4.1,1 Q4.2,2.9 3,3.7 Q1.3,4.3 0.8,3.3" stroke="#222" stroke-width="0.95" fill="none"/>
<path d="M4.1,0 Q8,-1.7 12.5,0 Q8,1.7 4.1,0 Z" stroke="#222" stroke-width="0.75" fill="#ddd"/>
<line x1="12" y1="0" x2="17" y2="0" stroke="#222" stroke-width="0.95"/></g>
<g transform="translate(807.8 440.0) rotate(45)"><line x1="-16" y1="0" x2="-7" y2="0" stroke="#222" stroke-width="2.1" stroke-dasharray="0.8,0.35"/>
<path d="M-17,0 L-15,-1.05 L-7,-1.1 M-17,0 L-15,1.05 L-7,1.1" stroke="#222" stroke-width="0.5" fill="none"/>
<path d="M-8,-1.1 Q-5,-1.6 -2.5,0 Q-5,1.6 -8,1.1 Z" stroke="#222" stroke-width="0.7" fill="#fff"/>
<line x1="-3" y1="0" x2="4" y2="0" stroke="#222" stroke-width="1.3"/>
<path d="M0.8,-3.3 Q1.3,-4.3 3,-3.7 Q4.2,-2.9 4.1,-1 L4.1,1 Q4.2,2.9 3,3.7 Q1.3,4.3 0.8,3.3" stroke="#222" stroke-width="0.95" fill="none"/>
<path d="M4.1,0 Q8,-1.7 12.5,0 Q8,1.7 4.1,0 Z" stroke="#222" stroke-width="0.75" fill="#ddd"/>
<line x1="12" y1="0" x2="17" y2="0" stroke="#222" stroke-width="0.95"/></g>
<g transform="translate(824.6 433.4) rotate(45)"><line x1="-16" y1="0" x2="-7" y2="0" stroke="#222" stroke-width="2.1" stroke-dasharray="0.8,0.35"/>
<path d="M-17,0 L-15,-1.05 L-7,-1.1 M-17,0 L-15,1.05 L-7,1.1" stroke="#222" stroke-width="0.5" fill="none"/>
<path d="M-8,-1.1 Q-5,-1.6 -2.5,0 Q-5,1.6 -8,1.1 Z" stroke="#222" stroke-width="0.7" fill="#fff"/>
<line x1="-3" y1="0" x2="4" y2="0" stroke="#222" stroke-width="1.3"/>
<path d="M0.8,-3.3 Q1.3,-4.3 3,-3.7 Q4.2,-2.9 4.1,-1 L4.1,1 Q4.2,2.9 3,3.7 Q1.3,4.3 0.8,3.3" stroke="#222" stroke-width="0.95" fill="none"/>
<path d="M4.1,0 Q8,-1.7 12.5,0 Q8,1.7 4.1,0 Z" stroke="#222" stroke-width="0.75" fill="#ddd"/>
<line x1="12" y1="0" x2="17" y2="0" stroke="#222" stroke-width="0.95"/></g>
<g transform="translate(833.5 421.6) rotate(45)"><line x1="-16" y1="0" x2="-7" y2="0" stroke="#222" stroke-width="2.1" stroke-dasharray="0.8,0.35"/>
<path d="M-17,0 L-15,-1.05 L-7,-1.1 M-17,0 L-15,1.05 L-7,1.1" stroke="#222" stroke-width="0.5" fill="none"/>
<path d="M-8,-1.1 Q-5,-1.6 -2.5,0 Q-5,1.6 -8,1.1 Z" stroke="#222" stroke-width="0.7" fill="#fff"/>
<line x1="-3" y1="0" x2="4" y2="0" stroke="#222" stroke-width="1.3"/>
<path d="M0.8,-3.3 Q1.3,-4.3 3,-3.7 Q4.2,-2.9 4.1,-1 L4.1,1 Q4.2,2.9 3,3.7 Q1.3,4.3 0.8,3.3" stroke="#222" stroke-width="0.95" fill="none"/>
<path d="M4.1,0 Q8,-1.7 12.5,0 Q8,1.7 4.1,0 Z" stroke="#222" stroke-width="0.75" fill="#ddd"/>
<line x1="12" y1="0" x2="17" y2="0" stroke="#222" stroke-width="0.95"/></g>
<g transform="translate(842.8 410.8) rotate(45)"><line x1="-16" y1="0" x2="-7" y2="0" stroke="#222" stroke-width="2.1" stroke-dasharray="0.8,0.35"/>
<path d="M-17,0 L-15,-1.05 L-7,-1.1 M-17,0 L-15,1.05 L-7,1.1" stroke="#222" stroke-width="0.5" fill="none"/>
<path d="M-8,-1.1 Q-5,-1.6 -2.5,0 Q-5,1.6 -8,1.1 Z" stroke="#222" stroke-width="0.7" fill="#fff"/>
<line x1="-3" y1="0" x2="4" y2="0" stroke="#222" stroke-width="1.3"/>
<path d="M0.8,-3.3 Q1.3,-4.3 3,-3.7 Q4.2,-2.9 4.1,-1 L4.1,1 Q4.2,2.9 3,3.7 Q1.3,4.3 0.8,3.3" stroke="#222" stroke-width="0.95" fill="none"/>
<path d="M4.1,0 Q8,-1.7 12.5,0 Q8,1.7 4.1,0 Z" stroke="#222" stroke-width="0.75" fill="#ddd"/>
<line x1="12" y1="0" x2="17" y2="0" stroke="#222" stroke-width="0.95"/></g>
<g transform="translate(609.5 430.0) rotate(-28)"><ellipse cx="-6.5" cy="6.8" rx="1.85" ry="5.7" transform="rotate(8 -6.5 6.8)" stroke="#222" stroke-width="1" fill="none"/>
<path d="M-6.6,8 L1.3,-2.8" stroke="#111" stroke-width="1.7" fill="none"/>
<path d="M1.3,-2.8 L8.4,-12.4" stroke="#111" stroke-width="1.35" fill="none"/>
<path d="M8.4,-12.4 L4.3,-2.6 L1.5,-2.6" stroke="#666" stroke-width="0.6" fill="none"/>
<path d="M-3.2,-1.5 L3.5,-1.9" stroke="#111" stroke-width="1.7" fill="none"/>
<path d="M-5.6,4.9 L1.2,5.5" stroke="#222" stroke-width="0.9" fill="none"/>
<path d="M-0.2,4.3 L2.2,5.6 L-0.4,6.6" stroke="#222" stroke-width="0.7" fill="none"/></g>
<g transform="translate(619.3 430.0) rotate(-28)"><ellipse cx="-6.5" cy="6.8" rx="1.85" ry="5.7" transform="rotate(8 -6.5 6.8)" stroke="#222" stroke-width="1" fill="none"/>
<path d="M-6.6,8 L1.3,-2.8" stroke="#111" stroke-width="1.7" fill="none"/>
<path d="M1.3,-2.8 L8.4,-12.4" stroke="#111" stroke-width="1.35" fill="none"/>
<path d="M8.4,-12.4 L4.3,-2.6 L1.5,-2.6" stroke="#666" stroke-width="0.6" fill="none"/>
<path d="M-3.2,-1.5 L3.5,-1.9" stroke="#111" stroke-width="1.7" fill="none"/>
<path d="M-5.6,4.9 L1.2,5.5" stroke="#222" stroke-width="0.9" fill="none"/>
<path d="M-0.2,4.3 L2.2,5.6 L-0.4,6.6" stroke="#222" stroke-width="0.7" fill="none"/></g>
<g transform="translate(628.5 428.0) rotate(-90)"><line x1="-16" y1="0" x2="-7" y2="0" stroke="#222" stroke-width="2.1" stroke-dasharray="0.8,0.35"/>
<path d="M-17,0 L-15,-1.05 L-7,-1.1 M-17,0 L-15,1.05 L-7,1.1" stroke="#222" stroke-width="0.5" fill="none"/>
<path d="M-8,-1.1 Q-5,-1.6 -2.5,0 Q-5,1.6 -8,1.1 Z" stroke="#222" stroke-width="0.7" fill="#fff"/>
<line x1="-3" y1="0" x2="4" y2="0" stroke="#222" stroke-width="1.3"/>
<path d="M0.8,-3.3 Q1.3,-4.3 3,-3.7 Q4.2,-2.9 4.1,-1 L4.1,1 Q4.2,2.9 3,3.7 Q1.3,4.3 0.8,3.3" stroke="#222" stroke-width="0.95" fill="none"/>
<path d="M4.1,0 Q8,-1.7 12.5,0 Q8,1.7 4.1,0 Z" stroke="#222" stroke-width="0.75" fill="#ddd"/>
<line x1="12" y1="0" x2="17" y2="0" stroke="#222" stroke-width="0.95"/></g>
<g transform="translate(636.5 428.0) rotate(-90)"><line x1="-16" y1="0" x2="-7" y2="0" stroke="#222" stroke-width="2.1" stroke-dasharray="0.8,0.35"/>
<path d="M-17,0 L-15,-1.05 L-7,-1.1 M-17,0 L-15,1.05 L-7,1.1" stroke="#222" stroke-width="0.5" fill="none"/>
<path d="M-8,-1.1 Q-5,-1.6 -2.5,0 Q-5,1.6 -8,1.1 Z" stroke="#222" stroke-width="0.7" fill="#fff"/>
<line x1="-3" y1="0" x2="4" y2="0" stroke="#222" stroke-width="1.3"/>
<path d="M0.8,-3.3 Q1.3,-4.3 3,-3.7 Q4.2,-2.9 4.1,-1 L4.1,1 Q4.2,2.9 3,3.7 Q1.3,4.3 0.8,3.3" stroke="#222" stroke-width="0.95" fill="none"/>
<path d="M4.1,0 Q8,-1.7 12.5,0 Q8,1.7 4.1,0 Z" stroke="#222" stroke-width="0.75" fill="#ddd"/>
<line x1="12" y1="0" x2="17" y2="0" stroke="#222" stroke-width="0.95"/></g>
<rect x="-116" y="-41" width="232" height="82" rx="41" transform="translate(720 279) rotate(33.5)" fill="none" stroke="#f8f8f8" stroke-width="1"/>
<text x="356.3" y="141.75" text-anchor="middle">1</text>
<text x="454.75" y="148.00" text-anchor="middle">2</text>
<text x="602.5" y="216.50" text-anchor="middle">3</text>
<text x="567.4" y="396.75" text-anchor="middle">4</text>
<text x="441.6" y="237.85" text-anchor="middle">5</text>
<text x="371.6" y="263.05" text-anchor="middle">6</text>
<text x="445.75" y="287.75" text-anchor="middle">7</text>
<text x="445.4" y="339.25" text-anchor="middle">8</text>
<text x="392.5" y="339.25" text-anchor="middle">9</text>
<text x="335" y="338.85" text-anchor="middle">10</text>
</svg>
</div>
</body></html>
